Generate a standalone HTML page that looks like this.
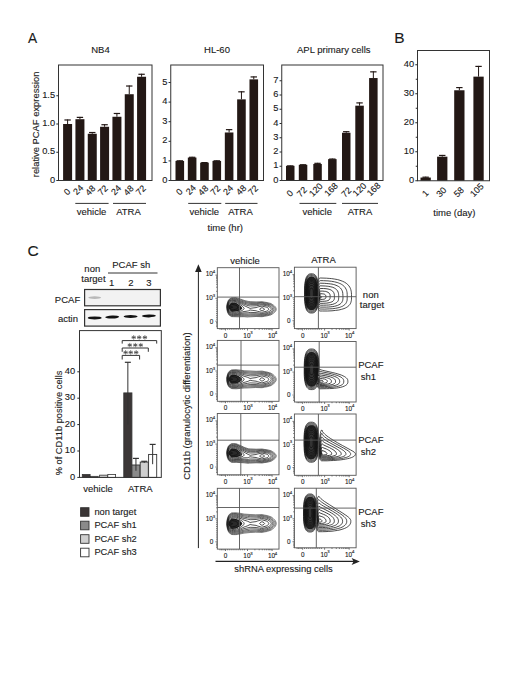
<!DOCTYPE html>
<html><head><meta charset="utf-8"><style>
html,body{margin:0;padding:0;background:#fff;}
body{width:520px;height:673px;overflow:hidden;}
svg{display:block;font-family:"Liberation Sans", sans-serif;}
text{stroke:#1a1a1a;stroke-width:0.12px;}
</style></head><body>
<svg width="520" height="673" viewBox="0 0 520 673">
<rect width="520" height="673" fill="#fff"/>
<text transform="translate(28.0 42.9) scale(0.92 1)" x="0" y="0" font-size="14.9" fill="#1a1a1a">A</text>
<text x="394.2" y="42.7" font-size="15.5" text-anchor="start" fill="#1a1a1a">B</text>
<text x="27.4" y="256.2" font-size="15.5" text-anchor="start" fill="#1a1a1a">C</text>
<line x1="67.6" y1="119.47999999999999" x2="67.6" y2="124.0" stroke="#231815" stroke-width="1.0"/>
<line x1="64.39999999999999" y1="119.97999999999999" x2="70.8" y2="119.97999999999999" stroke="#231815" stroke-width="1.2"/>
<rect x="63.1" y="124.0" width="9.0" height="56.5" fill="#231815"/>
<line x1="79.93" y1="116.881" x2="79.93" y2="119.1975" stroke="#231815" stroke-width="1.0"/>
<line x1="76.73" y1="117.381" x2="83.13000000000001" y2="117.381" stroke="#231815" stroke-width="1.2"/>
<rect x="75.43" y="119.1975" width="9.0" height="61.302499999999995" fill="#231815"/>
<line x1="92.26" y1="132.023" x2="92.26" y2="133.7745" stroke="#231815" stroke-width="1.0"/>
<line x1="89.06" y1="132.523" x2="95.46000000000001" y2="132.523" stroke="#231815" stroke-width="1.2"/>
<rect x="87.76" y="133.7745" width="9.0" height="46.72550000000001" fill="#231815"/>
<line x1="104.59" y1="124.226" x2="104.59" y2="126.7685" stroke="#231815" stroke-width="1.0"/>
<line x1="101.39" y1="124.726" x2="107.79" y2="124.726" stroke="#231815" stroke-width="1.2"/>
<rect x="100.09" y="126.7685" width="9.0" height="53.7315" fill="#231815"/>
<line x1="116.92" y1="112.9825" x2="116.92" y2="116.768" stroke="#231815" stroke-width="1.0"/>
<line x1="113.72" y1="113.4825" x2="120.12" y2="113.4825" stroke="#231815" stroke-width="1.2"/>
<rect x="112.42" y="116.768" width="9.0" height="63.732" fill="#231815"/>
<line x1="129.25" y1="85.5235" x2="129.25" y2="94.2245" stroke="#231815" stroke-width="1.0"/>
<line x1="126.05" y1="86.0235" x2="132.45" y2="86.0235" stroke="#231815" stroke-width="1.2"/>
<rect x="124.75" y="94.2245" width="9.0" height="86.2755" fill="#231815"/>
<line x1="141.58" y1="73.7715" x2="141.58" y2="76.76599999999999" stroke="#231815" stroke-width="1.0"/>
<line x1="138.38000000000002" y1="74.2715" x2="144.78" y2="74.2715" stroke="#231815" stroke-width="1.2"/>
<rect x="137.08" y="76.76599999999999" width="9.0" height="103.73400000000001" fill="#231815"/>
<rect x="58.5" y="65" width="93.5" height="115.5" fill="none" stroke="#333" stroke-width="1"/>
<line x1="56.3" y1="180.5" x2="58.5" y2="180.5" stroke="#2a2a2a" stroke-width="1"/>
<text x="55.099999999999994" y="182.6" font-size="9.3" text-anchor="end" fill="#1a1a1a">0</text>
<line x1="56.3" y1="152.25" x2="58.5" y2="152.25" stroke="#2a2a2a" stroke-width="1"/>
<text x="55.099999999999994" y="154.35" font-size="9.3" text-anchor="end" fill="#1a1a1a">0.5</text>
<line x1="56.3" y1="124.0" x2="58.5" y2="124.0" stroke="#2a2a2a" stroke-width="1"/>
<text x="55.099999999999994" y="126.1" font-size="9.3" text-anchor="end" fill="#1a1a1a">1.0</text>
<line x1="56.3" y1="95.75" x2="58.5" y2="95.75" stroke="#2a2a2a" stroke-width="1"/>
<text x="55.099999999999994" y="97.85" font-size="9.3" text-anchor="end" fill="#1a1a1a">1.5</text>
<text x="100.5" y="53.4" font-size="9.5" text-anchor="middle" fill="#1a1a1a">NB4</text>
<line x1="179.8" y1="160.312" x2="179.8" y2="160.9" stroke="#231815" stroke-width="1.0"/>
<line x1="176.60000000000002" y1="160.812" x2="183.0" y2="160.812" stroke="#231815" stroke-width="1.2"/>
<rect x="175.5" y="160.9" width="8.6" height="19.599999999999994" fill="#231815"/>
<line x1="192.13000000000002" y1="156.784" x2="192.13000000000002" y2="157.568" stroke="#231815" stroke-width="1.0"/>
<line x1="188.93000000000004" y1="157.284" x2="195.33" y2="157.284" stroke="#231815" stroke-width="1.2"/>
<rect x="187.83" y="157.568" width="8.6" height="22.931999999999988" fill="#231815"/>
<line x1="204.46" y1="162.076" x2="204.46" y2="162.664" stroke="#231815" stroke-width="1.0"/>
<line x1="201.26000000000002" y1="162.576" x2="207.66" y2="162.576" stroke="#231815" stroke-width="1.2"/>
<rect x="200.16" y="162.664" width="8.6" height="17.836000000000013" fill="#231815"/>
<line x1="216.79000000000002" y1="160.312" x2="216.79000000000002" y2="160.9" stroke="#231815" stroke-width="1.0"/>
<line x1="213.59000000000003" y1="160.812" x2="219.99" y2="160.812" stroke="#231815" stroke-width="1.2"/>
<rect x="212.49" y="160.9" width="8.6" height="19.599999999999994" fill="#231815"/>
<line x1="229.12" y1="129.148" x2="229.12" y2="132.48" stroke="#231815" stroke-width="1.0"/>
<line x1="225.92000000000002" y1="129.648" x2="232.32" y2="129.648" stroke="#231815" stroke-width="1.2"/>
<rect x="224.82" y="132.48" width="8.6" height="48.02000000000001" fill="#231815"/>
<line x1="241.45000000000002" y1="91.32" x2="241.45000000000002" y2="99.356" stroke="#231815" stroke-width="1.0"/>
<line x1="238.25000000000003" y1="91.82" x2="244.65" y2="91.82" stroke="#231815" stroke-width="1.2"/>
<rect x="237.15" y="99.356" width="8.6" height="81.144" fill="#231815"/>
<line x1="253.78000000000003" y1="76.424" x2="253.78000000000003" y2="79.36399999999999" stroke="#231815" stroke-width="1.0"/>
<line x1="250.58000000000004" y1="76.924" x2="256.98" y2="76.924" stroke="#231815" stroke-width="1.2"/>
<rect x="249.48000000000002" y="79.36399999999999" width="8.6" height="101.13600000000001" fill="#231815"/>
<rect x="170.75" y="65" width="92.75" height="115.5" fill="none" stroke="#333" stroke-width="1"/>
<line x1="168.55" y1="180.5" x2="170.75" y2="180.5" stroke="#2a2a2a" stroke-width="1"/>
<text x="167.35000000000002" y="182.6" font-size="9.3" text-anchor="end" fill="#1a1a1a">0</text>
<line x1="168.55" y1="160.9" x2="170.75" y2="160.9" stroke="#2a2a2a" stroke-width="1"/>
<text x="167.35000000000002" y="163.0" font-size="9.3" text-anchor="end" fill="#1a1a1a">1</text>
<line x1="168.55" y1="141.3" x2="170.75" y2="141.3" stroke="#2a2a2a" stroke-width="1"/>
<text x="167.35000000000002" y="143.4" font-size="9.3" text-anchor="end" fill="#1a1a1a">2</text>
<line x1="168.55" y1="121.69999999999999" x2="170.75" y2="121.69999999999999" stroke="#2a2a2a" stroke-width="1"/>
<text x="167.35000000000002" y="123.79999999999998" font-size="9.3" text-anchor="end" fill="#1a1a1a">3</text>
<line x1="168.55" y1="102.1" x2="170.75" y2="102.1" stroke="#2a2a2a" stroke-width="1"/>
<text x="167.35000000000002" y="104.19999999999999" font-size="9.3" text-anchor="end" fill="#1a1a1a">4</text>
<line x1="168.55" y1="82.5" x2="170.75" y2="82.5" stroke="#2a2a2a" stroke-width="1"/>
<text x="167.35000000000002" y="84.6" font-size="9.3" text-anchor="end" fill="#1a1a1a">5</text>
<text x="217" y="53.4" font-size="9.5" text-anchor="middle" fill="#1a1a1a">HL-60</text>
<line x1="290.25" y1="165.395" x2="290.25" y2="165.8225" stroke="#231815" stroke-width="1.0"/>
<line x1="287.05" y1="165.895" x2="293.45" y2="165.895" stroke="#231815" stroke-width="1.2"/>
<rect x="286" y="165.8225" width="8.5" height="14.677500000000009" fill="#231815"/>
<line x1="303.05" y1="164.255" x2="303.05" y2="164.825" stroke="#231815" stroke-width="1.0"/>
<line x1="299.85" y1="164.755" x2="306.25" y2="164.755" stroke="#231815" stroke-width="1.2"/>
<rect x="298.8" y="164.825" width="8.5" height="15.675000000000011" fill="#231815"/>
<line x1="317.55" y1="162.83" x2="317.55" y2="163.97" stroke="#231815" stroke-width="1.0"/>
<line x1="314.35" y1="163.33" x2="320.75" y2="163.33" stroke="#231815" stroke-width="1.2"/>
<rect x="313.3" y="163.97" width="8.5" height="16.53" fill="#231815"/>
<line x1="332.35" y1="158.555" x2="332.35" y2="159.125" stroke="#231815" stroke-width="1.0"/>
<line x1="329.15000000000003" y1="159.055" x2="335.55" y2="159.055" stroke="#231815" stroke-width="1.2"/>
<rect x="328.1" y="159.125" width="8.5" height="21.375" fill="#231815"/>
<line x1="346.25" y1="131.195" x2="346.25" y2="132.7625" stroke="#231815" stroke-width="1.0"/>
<line x1="343.05" y1="131.695" x2="349.45" y2="131.695" stroke="#231815" stroke-width="1.2"/>
<rect x="342" y="132.7625" width="8.5" height="47.73750000000001" fill="#231815"/>
<line x1="359.55" y1="102.41" x2="359.55" y2="105.6875" stroke="#231815" stroke-width="1.0"/>
<line x1="356.35" y1="102.91" x2="362.75" y2="102.91" stroke="#231815" stroke-width="1.2"/>
<rect x="355.3" y="105.6875" width="8.5" height="74.8125" fill="#231815"/>
<line x1="373.35" y1="71.345" x2="373.35" y2="78.04249999999999" stroke="#231815" stroke-width="1.0"/>
<line x1="370.15000000000003" y1="71.845" x2="376.55" y2="71.845" stroke="#231815" stroke-width="1.2"/>
<rect x="369.1" y="78.04249999999999" width="8.5" height="102.45750000000001" fill="#231815"/>
<rect x="281.75" y="65" width="101.25" height="115.5" fill="none" stroke="#333" stroke-width="1"/>
<line x1="279.55" y1="180.5" x2="281.75" y2="180.5" stroke="#2a2a2a" stroke-width="1"/>
<text x="278.35" y="182.6" font-size="9.3" text-anchor="end" fill="#1a1a1a">0</text>
<line x1="279.55" y1="166.25" x2="281.75" y2="166.25" stroke="#2a2a2a" stroke-width="1"/>
<text x="278.35" y="168.35" font-size="9.3" text-anchor="end" fill="#1a1a1a">1</text>
<line x1="279.55" y1="152.0" x2="281.75" y2="152.0" stroke="#2a2a2a" stroke-width="1"/>
<text x="278.35" y="154.1" font-size="9.3" text-anchor="end" fill="#1a1a1a">2</text>
<line x1="279.55" y1="137.75" x2="281.75" y2="137.75" stroke="#2a2a2a" stroke-width="1"/>
<text x="278.35" y="139.85" font-size="9.3" text-anchor="end" fill="#1a1a1a">3</text>
<line x1="279.55" y1="123.5" x2="281.75" y2="123.5" stroke="#2a2a2a" stroke-width="1"/>
<text x="278.35" y="125.6" font-size="9.3" text-anchor="end" fill="#1a1a1a">4</text>
<line x1="279.55" y1="109.25" x2="281.75" y2="109.25" stroke="#2a2a2a" stroke-width="1"/>
<text x="278.35" y="111.35" font-size="9.3" text-anchor="end" fill="#1a1a1a">5</text>
<line x1="279.55" y1="95.0" x2="281.75" y2="95.0" stroke="#2a2a2a" stroke-width="1"/>
<text x="278.35" y="97.1" font-size="9.3" text-anchor="end" fill="#1a1a1a">6</text>
<line x1="279.55" y1="80.75" x2="281.75" y2="80.75" stroke="#2a2a2a" stroke-width="1"/>
<text x="278.35" y="82.85" font-size="9.3" text-anchor="end" fill="#1a1a1a">7</text>
<text x="333.8" y="53.4" font-size="9.5" text-anchor="middle" fill="#1a1a1a">APL primary cells</text>
<line x1="425.65" y1="176.69" x2="425.65" y2="177.56" stroke="#231815" stroke-width="1.0"/>
<line x1="422.45" y1="177.19" x2="428.84999999999997" y2="177.19" stroke="#231815" stroke-width="1.2"/>
<rect x="420.5" y="177.56" width="10.3" height="3.1899999999999977" fill="#231815"/>
<line x1="442.25" y1="154.94" x2="442.25" y2="156.68" stroke="#231815" stroke-width="1.0"/>
<line x1="439.05" y1="155.44" x2="445.45" y2="155.44" stroke="#231815" stroke-width="1.2"/>
<rect x="437.1" y="156.68" width="10.3" height="24.069999999999993" fill="#231815"/>
<line x1="459.34999999999997" y1="87.08000000000001" x2="459.34999999999997" y2="90.27000000000001" stroke="#231815" stroke-width="1.0"/>
<line x1="456.15" y1="87.58000000000001" x2="462.54999999999995" y2="87.58000000000001" stroke="#231815" stroke-width="1.2"/>
<rect x="454.2" y="90.27000000000001" width="10.3" height="90.47999999999999" fill="#231815"/>
<line x1="478.54999999999995" y1="65.91" x2="478.54999999999995" y2="76.64" stroke="#231815" stroke-width="1.0"/>
<line x1="475.34999999999997" y1="66.41" x2="481.74999999999994" y2="66.41" stroke="#231815" stroke-width="1.2"/>
<rect x="473.4" y="76.64" width="10.3" height="104.11" fill="#231815"/>
<rect x="417.5" y="50.5" width="72.0" height="130.25" fill="none" stroke="#333" stroke-width="1"/>
<line x1="415.3" y1="180.75" x2="417.5" y2="180.75" stroke="#2a2a2a" stroke-width="1"/>
<text x="414.1" y="182.85" font-size="9.3" text-anchor="end" fill="#1a1a1a">0</text>
<line x1="415.3" y1="151.75" x2="417.5" y2="151.75" stroke="#2a2a2a" stroke-width="1"/>
<text x="414.1" y="153.85" font-size="9.3" text-anchor="end" fill="#1a1a1a">10</text>
<line x1="415.3" y1="122.75" x2="417.5" y2="122.75" stroke="#2a2a2a" stroke-width="1"/>
<text x="414.1" y="124.85" font-size="9.3" text-anchor="end" fill="#1a1a1a">20</text>
<line x1="415.3" y1="93.75" x2="417.5" y2="93.75" stroke="#2a2a2a" stroke-width="1"/>
<text x="414.1" y="95.85" font-size="9.3" text-anchor="end" fill="#1a1a1a">30</text>
<line x1="415.3" y1="64.75" x2="417.5" y2="64.75" stroke="#2a2a2a" stroke-width="1"/>
<text x="414.1" y="66.85" font-size="9.3" text-anchor="end" fill="#1a1a1a">40</text>
<line x1="415.74" y1="166.25" x2="417.5" y2="166.25" stroke="#2a2a2a" stroke-width="1"/>
<line x1="415.74" y1="137.25" x2="417.5" y2="137.25" stroke="#2a2a2a" stroke-width="1"/>
<line x1="415.74" y1="108.25" x2="417.5" y2="108.25" stroke="#2a2a2a" stroke-width="1"/>
<line x1="415.74" y1="79.25" x2="417.5" y2="79.25" stroke="#2a2a2a" stroke-width="1"/>
<text x="39.4" y="124.35" font-size="9.4" text-anchor="middle" fill="#1a1a1a" transform="rotate(-90 39.4 124.35)">relative PCAF expression</text>
<text x="69.32" y="194.02" font-size="9" text-anchor="middle" fill="#1a1a1a" transform="rotate(-45 69.32 194.02)">0</text>
<text x="80.42" y="192.08" font-size="9" text-anchor="middle" fill="#1a1a1a" transform="rotate(-45 80.42 192.08)">24</text>
<text x="92.6" y="192.6" font-size="9" text-anchor="middle" fill="#1a1a1a" transform="rotate(-45 92.6 192.6)">48</text>
<text x="105.12" y="192.5" font-size="9" text-anchor="middle" fill="#1a1a1a" transform="rotate(-45 105.12 192.5)">72</text>
<text x="118.22" y="192.28" font-size="9" text-anchor="middle" fill="#1a1a1a" transform="rotate(-45 118.22 192.28)">24</text>
<text x="130.8" y="192.6" font-size="9" text-anchor="middle" fill="#1a1a1a" transform="rotate(-45 130.8 192.6)">48</text>
<text x="143.12" y="192.5" font-size="9" text-anchor="middle" fill="#1a1a1a" transform="rotate(-45 143.12 192.5)">72</text>
<text x="181.52" y="194.02" font-size="9" text-anchor="middle" fill="#1a1a1a" transform="rotate(-45 181.52 194.02)">0</text>
<text x="193.12" y="192.08" font-size="9" text-anchor="middle" fill="#1a1a1a" transform="rotate(-45 193.12 192.08)">24</text>
<text x="205.4" y="192.6" font-size="9" text-anchor="middle" fill="#1a1a1a" transform="rotate(-45 205.4 192.6)">48</text>
<text x="217.62" y="192.4" font-size="9" text-anchor="middle" fill="#1a1a1a" transform="rotate(-45 217.62 192.4)">72</text>
<text x="230.22" y="192.28" font-size="9" text-anchor="middle" fill="#1a1a1a" transform="rotate(-45 230.22 192.28)">24</text>
<text x="243.4" y="192.3" font-size="9" text-anchor="middle" fill="#1a1a1a" transform="rotate(-45 243.4 192.3)">48</text>
<text x="255.32" y="192.4" font-size="9" text-anchor="middle" fill="#1a1a1a" transform="rotate(-45 255.32 192.4)">72</text>
<text x="292.12" y="195.42" font-size="9" text-anchor="middle" fill="#1a1a1a" transform="rotate(-45 292.12 195.42)">0</text>
<text x="304.02" y="194.1" font-size="9" text-anchor="middle" fill="#1a1a1a" transform="rotate(-45 304.02 194.1)">72</text>
<text x="318.0" y="191.98" font-size="9" text-anchor="middle" fill="#1a1a1a" transform="rotate(-45 318.0 191.98)">120</text>
<text x="333.3" y="191.8" font-size="9" text-anchor="middle" fill="#1a1a1a" transform="rotate(-45 333.3 191.8)">168</text>
<text x="348.52" y="194.4" font-size="9" text-anchor="middle" fill="#1a1a1a" transform="rotate(-45 348.52 194.4)">72</text>
<text x="361.7" y="191.78" font-size="9" text-anchor="middle" fill="#1a1a1a" transform="rotate(-45 361.7 191.78)">120</text>
<text x="375.9" y="191.5" font-size="9" text-anchor="middle" fill="#1a1a1a" transform="rotate(-45 375.9 191.5)">168</text>
<text x="427.42" y="195.45" font-size="9" text-anchor="middle" fill="#1a1a1a" transform="rotate(-45 427.42 195.45)">1</text>
<text x="443.55" y="194.2" font-size="9" text-anchor="middle" fill="#1a1a1a" transform="rotate(-45 443.55 194.2)">30</text>
<text x="460.98" y="194.32" font-size="9" text-anchor="middle" fill="#1a1a1a" transform="rotate(-45 460.98 194.32)">58</text>
<text x="479.0" y="192.22" font-size="9" text-anchor="middle" fill="#1a1a1a" transform="rotate(-45 479.0 192.22)">105</text>
<line x1="75.3" y1="203.4" x2="108.6" y2="203.4" stroke="#333" stroke-width="1.0"/>
<line x1="113" y1="203.4" x2="146" y2="203.4" stroke="#333" stroke-width="1.0"/>
<text x="91.5" y="215" font-size="9.5" text-anchor="middle" fill="#1a1a1a">vehicle</text>
<text x="128.5" y="215" font-size="9.5" text-anchor="middle" fill="#1a1a1a">ATRA</text>
<line x1="188.2" y1="203.4" x2="221.3" y2="203.4" stroke="#333" stroke-width="1.0"/>
<line x1="225.2" y1="203.4" x2="257.5" y2="203.4" stroke="#333" stroke-width="1.0"/>
<text x="204.3" y="215" font-size="9.5" text-anchor="middle" fill="#1a1a1a">vehicle</text>
<text x="240.5" y="215" font-size="9.5" text-anchor="middle" fill="#1a1a1a">ATRA</text>
<line x1="299.5" y1="203.4" x2="336.3" y2="203.4" stroke="#333" stroke-width="1.0"/>
<line x1="342" y1="203.4" x2="378" y2="203.4" stroke="#333" stroke-width="1.0"/>
<text x="317.2" y="215" font-size="9.5" text-anchor="middle" fill="#1a1a1a">vehicle</text>
<text x="360" y="215" font-size="9.5" text-anchor="middle" fill="#1a1a1a">ATRA</text>
<text x="225.3" y="231.3" font-size="9.5" text-anchor="middle" fill="#1a1a1a">time (hr)</text>
<text x="454.4" y="215.5" font-size="9.5" text-anchor="middle" fill="#1a1a1a">time (day)</text>
<text x="92.3" y="272" font-size="9.5" text-anchor="middle" fill="#1a1a1a">non</text>
<text x="93.4" y="282" font-size="9.5" text-anchor="middle" fill="#1a1a1a">target</text>
<text x="131.3" y="268" font-size="9.5" text-anchor="middle" fill="#1a1a1a">PCAF sh</text>
<line x1="108" y1="273" x2="157.5" y2="273" stroke="#333" stroke-width="1"/>
<text x="111.6" y="285.7" font-size="9.5" text-anchor="middle" fill="#1a1a1a">1</text>
<text x="131" y="285.7" font-size="9.5" text-anchor="middle" fill="#1a1a1a">2</text>
<text x="149" y="285.7" font-size="9.5" text-anchor="middle" fill="#1a1a1a">3</text>
<text x="80.2" y="302.9" font-size="9.5" text-anchor="end" fill="#1a1a1a">PCAF</text>
<text x="78" y="322.3" font-size="9.5" text-anchor="end" fill="#1a1a1a">actin</text>
<rect x="84.6" y="289.5" width="75.8" height="16.3" fill="#f2f2f2" stroke="#333" stroke-width="1.2"/>
<rect x="84.6" y="309.6" width="75.8" height="16.5" fill="#f4f4f4" stroke="#333" stroke-width="1.2"/>
<ellipse cx="94.7" cy="297.6" rx="6.5" ry="1.3" fill="#b8b8b8"/>
<ellipse cx="94.7" cy="317.9" rx="7" ry="1.5" fill="#111" transform="rotate(0 94.7 317.9)"/>
<ellipse cx="112.2" cy="317.1" rx="7" ry="1.5" fill="#111" transform="rotate(-2 112.2 317.1)"/>
<ellipse cx="130.6" cy="316.5" rx="7" ry="1.5" fill="#111" transform="rotate(0 130.6 316.5)"/>
<ellipse cx="148.9" cy="315.9" rx="7" ry="1.5" fill="#111" transform="rotate(-1 148.9 315.9)"/>
<rect x="82.3" y="474.496" width="7.8" height="2.9040000000000004" fill="#3b3636" stroke="#333" stroke-width="0.8"/>
<rect x="90.4" y="476.344" width="7.8" height="1.056" fill="#8a8a8a" stroke="#333" stroke-width="0.8"/>
<rect x="99.6" y="475.15599999999995" width="7.8" height="2.244" fill="#cfcfcf" stroke="#333" stroke-width="0.8"/>
<rect x="107.8" y="474.496" width="7.8" height="2.9040000000000004" fill="#ffffff" stroke="#333" stroke-width="0.8"/>
<rect x="123.8" y="392.91999999999996" width="8.1" height="84.48" fill="#3b3636" stroke="#333" stroke-width="0.9"/>
<line x1="127.85" y1="362.29599999999994" x2="127.85" y2="424.59999999999997" stroke="#333" stroke-width="1"/>
<line x1="124.85" y1="362.29599999999994" x2="130.85" y2="362.29599999999994" stroke="#333" stroke-width="1.2"/>
<rect x="131.9" y="464.99199999999996" width="8.1" height="12.408000000000001" fill="#8a8a8a" stroke="#333" stroke-width="0.9"/>
<line x1="135.95000000000002" y1="458.392" x2="135.95000000000002" y2="470.79999999999995" stroke="#333" stroke-width="1"/>
<line x1="132.95000000000002" y1="458.392" x2="138.95000000000002" y2="458.392" stroke="#333" stroke-width="1.2"/>
<rect x="140.2" y="462.08799999999997" width="8.1" height="15.312" fill="#cfcfcf" stroke="#333" stroke-width="0.9"/>
<line x1="144.25" y1="461.296" x2="144.25" y2="462.88" stroke="#333" stroke-width="1"/>
<line x1="141.25" y1="461.296" x2="147.25" y2="461.296" stroke="#333" stroke-width="1.2"/>
<rect x="148.6" y="454.43199999999996" width="8.1" height="22.968" fill="#ffffff" stroke="#333" stroke-width="0.9"/>
<line x1="152.65" y1="444.4" x2="152.65" y2="464.2" stroke="#333" stroke-width="1"/>
<line x1="149.65" y1="444.4" x2="155.65" y2="444.4" stroke="#333" stroke-width="1.2"/>
<rect x="79.5" y="330.6" width="81.80000000000001" height="146.79999999999995" fill="none" stroke="#333" stroke-width="1"/>
<line x1="77.3" y1="477.4" x2="79.5" y2="477.4" stroke="#2a2a2a" stroke-width="1"/>
<text x="75.1" y="479.5" font-size="9.3" text-anchor="end" fill="#1a1a1a">0</text>
<line x1="77.3" y1="451.0" x2="79.5" y2="451.0" stroke="#2a2a2a" stroke-width="1"/>
<text x="75.1" y="453.1" font-size="9.3" text-anchor="end" fill="#1a1a1a">10</text>
<line x1="77.3" y1="424.59999999999997" x2="79.5" y2="424.59999999999997" stroke="#2a2a2a" stroke-width="1"/>
<text x="75.1" y="426.7" font-size="9.3" text-anchor="end" fill="#1a1a1a">20</text>
<line x1="77.3" y1="398.2" x2="79.5" y2="398.2" stroke="#2a2a2a" stroke-width="1"/>
<text x="75.1" y="400.3" font-size="9.3" text-anchor="end" fill="#1a1a1a">30</text>
<line x1="77.3" y1="371.79999999999995" x2="79.5" y2="371.79999999999995" stroke="#2a2a2a" stroke-width="1"/>
<text x="75.1" y="373.9" font-size="9.3" text-anchor="end" fill="#1a1a1a">40</text>
<text x="61.9" y="423" font-size="9.3" text-anchor="middle" fill="#1a1a1a" transform="rotate(-90 61.9 423)">% of CD11b positive cells</text>
<text x="98" y="492" font-size="9.5" text-anchor="middle" fill="#1a1a1a">vehicle</text>
<text x="140.3" y="492" font-size="9.5" text-anchor="middle" fill="#1a1a1a">ATRA</text>
<path d="M122.2 343.6 V340.6 H156.7 V343.6" fill="none" stroke="#333" stroke-width="1"/>
<path d="M122.2 351.8 V348.0 H148.3 V351.8" fill="none" stroke="#333" stroke-width="1"/>
<path d="M122.2 359.5 V355.4 H139.6 V359.5" fill="none" stroke="#333" stroke-width="1"/>
<path d="M133.70 335.20L133.70 339.60M131.79 336.30L135.61 338.50M131.79 338.50L135.61 336.30M131.50 337.40L135.90 337.40M139.20 335.20L139.20 339.60M137.29 336.30L141.11 338.50M137.29 338.50L141.11 336.30M137.00 337.40L141.40 337.40M144.90 335.20L144.90 339.60M142.99 336.30L146.81 338.50M142.99 338.50L146.81 336.30M142.70 337.40L147.10 337.40M129.80 342.90L129.80 347.30M127.89 344.00L131.71 346.20M127.89 346.20L131.71 344.00M127.60 345.10L132.00 345.10M135.30 342.90L135.30 347.30M133.39 344.00L137.21 346.20M133.39 346.20L137.21 344.00M133.10 345.10L137.50 345.10M140.80 342.90L140.80 347.30M138.89 344.00L142.71 346.20M138.89 346.20L142.71 344.00M138.60 345.10L143.00 345.10M125.60 350.20L125.60 354.60M123.69 351.30L127.51 353.50M123.69 353.50L127.51 351.30M123.40 352.40L127.80 352.40M130.70 350.20L130.70 354.60M128.79 351.30L132.61 353.50M128.79 353.50L132.61 351.30M128.50 352.40L132.90 352.40M136.20 350.20L136.20 354.60M134.29 351.30L138.11 353.50M134.29 353.50L138.11 351.30M134.00 352.40L138.40 352.40" stroke="#4a4a4a" stroke-width="0.75" fill="none"/>
<rect x="80.6" y="507.7" width="8.4" height="8.6" fill="#3b3636" stroke="#333" stroke-width="0.9"/>
<text x="94.4" y="514.7" font-size="9.3" text-anchor="start" fill="#1a1a1a">non target</text>
<rect x="80.6" y="521.2" width="8.4" height="8.6" fill="#8a8a8a" stroke="#333" stroke-width="0.9"/>
<text x="94.4" y="528.2" font-size="9.3" text-anchor="start" fill="#1a1a1a">PCAF sh1</text>
<rect x="80.6" y="534.7" width="8.4" height="8.6" fill="#cfcfcf" stroke="#333" stroke-width="0.9"/>
<text x="94.4" y="541.7" font-size="9.3" text-anchor="start" fill="#1a1a1a">PCAF sh2</text>
<rect x="80.6" y="548.2" width="8.4" height="8.6" fill="#ffffff" stroke="#333" stroke-width="0.9"/>
<text x="94.4" y="555.2" font-size="9.3" text-anchor="start" fill="#1a1a1a">PCAF sh3</text>
<text x="245" y="263.5" font-size="9.5" text-anchor="middle" fill="#1a1a1a">vehicle</text>
<text x="323.5" y="263.2" font-size="9.5" text-anchor="middle" fill="#1a1a1a">ATRA</text>
<text x="370.8" y="298.2" font-size="9.5" text-anchor="middle" fill="#1a1a1a">non</text>
<text x="372.0" y="308.3" font-size="9.5" text-anchor="middle" fill="#1a1a1a">target</text>
<text x="370.8" y="368.3" font-size="9.5" text-anchor="middle" fill="#1a1a1a">PCAF</text>
<text x="368.4" y="379.6" font-size="9.5" text-anchor="middle" fill="#1a1a1a">sh1</text>
<text x="370.8" y="443.1" font-size="9.5" text-anchor="middle" fill="#1a1a1a">PCAF</text>
<text x="368.4" y="454.5" font-size="9.5" text-anchor="middle" fill="#1a1a1a">sh2</text>
<text x="370.8" y="515.4" font-size="9.5" text-anchor="middle" fill="#1a1a1a">PCAF</text>
<text x="368.4" y="526.8" font-size="9.5" text-anchor="middle" fill="#1a1a1a">sh3</text>
<line x1="198.4" y1="268" x2="198.4" y2="548.1" stroke="#222" stroke-width="1"/>
<path d="M198.4 264.3 L195.1 271.9 L201.7 271.9 Z" fill="#222"/>
<line x1="215.5" y1="561.4" x2="355" y2="561.4" stroke="#222" stroke-width="1.1"/>
<path d="M359.9 561.4 L351.6 557.9 L353.6 561.4 L351.6 564.9 Z" fill="#222"/>
<text x="283.5" y="572.3" font-size="9.4" text-anchor="middle" fill="#1a1a1a">shRNA expressing cells</text>
<text x="190.3" y="406.1" font-size="9.46" text-anchor="middle" fill="#1a1a1a" transform="rotate(-90 190.3 406.1)">CD11b (granulocytic differentiation)</text>
<path d="M231.7 311.7 231.3 311.5 230.7 310.9 230.0 310.1 229.4 309.3 228.9 308.5 228.8 307.3 228.8 306.5 228.9 305.9 229.2 305.3 229.8 304.5 230.5 303.7 231.3 302.9 231.7 302.7 233.7 302.8 235.7 303.0 236.1 303.1 238.5 304.5 240.3 305.7 241.2 306.5 241.5 306.9 242.1 307.7 242.2 308.1 242.2 308.5 242.0 308.9 241.6 309.3 241.0 309.7 240.3 310.1 239.7 310.4 238.1 310.9 236.1 311.3 233.7 311.6 231.7 311.7Z" fill="#2a2a2a" stroke="none"/>
<path d="M248.5 316.9 247.7 317.0 244.1 316.7 241.7 316.7 239.3 316.8 233.7 316.7 231.7 316.6 231.3 316.5 228.9 314.9 228.2 313.7 227.8 312.9 227.4 311.7 227.0 310.1 226.8 308.5 226.6 307.3 226.7 306.1 227.0 304.5 227.5 302.5 227.8 301.7 228.3 300.5 228.9 299.5 231.3 297.9 231.7 297.8 233.7 297.7 236.1 297.7 240.5 299.1 244.1 300.4 248.1 301.4 250.1 301.6 256.1 301.9 262.1 301.7 264.9 302.2 266.9 302.5 270.9 303.5 272.1 304.3 273.6 305.3 274.5 306.0 274.9 306.4 275.6 307.3 276.0 308.1 276.1 308.5 276.2 308.9 276.2 309.3 276.1 310.1 275.7 310.9 275.1 311.7 274.5 312.4 273.7 313.0 272.5 313.9 270.9 314.9 266.9 315.9 264.9 316.2 262.1 316.7 256.1 316.5 250.1 316.8 248.5 316.9Z" fill="none" stroke="#111" stroke-width="0.55" stroke-linejoin="round"/>
<path d="M248.1 316.1 244.1 315.9 241.7 316.0 239.3 316.0 233.7 316.1 231.7 316.0 231.3 315.9 228.9 314.3 228.6 313.7 228.2 312.9 227.9 312.1 227.5 310.9 227.1 308.9 227.0 307.3 227.0 306.5 227.1 305.3 227.5 303.3 227.8 302.5 228.3 301.3 228.9 300.1 231.3 298.5 231.7 298.4 233.7 298.3 235.7 298.3 236.1 298.4 239.3 299.5 241.7 300.3 244.1 301.2 248.1 302.3 250.1 302.5 256.1 302.7 262.1 302.4 264.9 302.9 266.9 303.2 270.9 304.4 271.3 304.6 272.5 305.5 273.7 306.5 274.4 307.3 274.7 307.7 275.1 308.5 275.1 308.9 275.2 309.3 275.0 310.1 274.8 310.5 274.2 311.3 273.0 312.5 271.7 313.5 270.9 314.0 267.3 315.1 266.9 315.2 264.9 315.5 262.1 316.0 260.1 315.9 256.1 315.7 250.1 315.9 248.1 316.1Z" fill="none" stroke="#111" stroke-width="0.59" stroke-linejoin="round"/>
<path d="M238.9 315.3 233.7 315.4 231.7 315.4 231.3 315.2 228.9 313.5 228.4 312.5 227.8 310.9 227.5 309.7 227.4 308.9 227.2 307.7 227.2 306.9 227.4 305.3 227.5 304.5 227.8 303.3 228.3 302.1 228.9 300.9 231.3 299.2 231.7 299.0 233.3 299.0 236.1 299.1 240.5 300.7 244.1 302.1 248.1 303.2 250.1 303.5 256.1 303.6 260.5 303.2 262.1 303.1 264.9 303.7 266.9 304.0 270.5 305.1 270.9 305.3 271.3 305.6 272.4 306.5 273.1 307.3 273.6 308.1 273.9 308.9 273.9 309.3 273.8 309.7 273.5 310.5 273.2 310.9 272.6 311.7 271.3 312.8 270.9 313.1 268.5 314.0 266.9 314.4 264.9 314.7 262.1 315.3 260.5 315.2 255.7 314.8 250.1 314.9 248.1 315.2 244.1 315.0 241.7 315.2 238.9 315.3Z" fill="none" stroke="#111" stroke-width="0.63" stroke-linejoin="round"/>
<path d="M238.9 314.5 233.7 314.7 231.7 314.7 231.3 314.5 229.7 313.4 228.9 312.8 228.8 312.5 228.3 311.3 227.9 310.1 227.6 308.5 227.5 307.7 227.5 306.9 227.5 306.1 227.7 304.9 227.9 304.1 228.3 302.9 228.9 301.6 231.3 299.9 231.7 299.7 233.3 299.7 236.1 299.8 240.5 301.5 244.1 303.1 248.1 304.3 249.7 304.6 250.1 304.6 256.1 304.6 259.3 304.2 262.1 304.0 264.9 304.5 266.9 304.8 268.9 305.6 270.9 306.4 271.4 306.9 272.0 307.7 272.3 308.1 272.6 308.9 272.6 309.3 272.5 309.7 272.2 310.5 271.6 311.3 270.9 312.0 268.9 312.8 266.9 313.6 264.9 313.9 262.1 314.4 260.1 314.3 256.1 313.8 250.1 313.8 248.1 314.1 244.1 314.0 241.7 314.3 238.9 314.5Z" fill="none" stroke="#111" stroke-width="0.67" stroke-linejoin="round"/>
<path d="M237.7 313.7 233.7 313.9 231.7 314.0 231.3 313.8 230.5 313.2 228.9 311.9 228.8 311.7 228.2 310.1 228.0 308.9 227.8 307.7 227.8 306.9 227.9 306.1 228.2 304.5 228.6 303.3 228.9 302.5 231.3 300.6 231.7 300.4 232.9 300.4 236.1 300.6 240.1 302.3 242.1 303.2 244.1 304.2 248.1 305.6 250.1 306.0 256.1 305.8 259.7 305.2 261.7 304.9 262.1 304.9 266.9 305.9 267.7 306.2 268.9 306.8 269.8 307.3 270.4 307.7 270.9 308.1 271.1 308.5 271.2 308.9 271.2 309.3 271.2 309.7 270.9 310.3 270.1 310.9 268.7 311.7 266.9 312.5 262.1 313.5 261.7 313.5 259.3 313.1 256.1 312.6 250.1 312.4 248.1 312.8 244.1 312.9 240.9 313.4 237.7 313.7Z" fill="none" stroke="#111" stroke-width="0.71" stroke-linejoin="round"/>
<path d="M236.5 312.9 233.7 313.1 231.7 313.2 231.3 313.0 230.9 312.7 229.8 311.7 228.9 310.9 228.6 310.1 228.4 309.3 228.3 308.5 228.2 307.7 228.2 306.5 228.3 305.7 228.5 304.9 228.7 304.1 228.9 303.5 230.0 302.5 231.3 301.4 231.7 301.2 233.7 301.3 236.1 301.5 238.1 302.4 240.5 303.5 242.3 304.5 244.1 305.6 246.1 306.5 250.1 308.4 251.9 308.1 256.1 307.6 257.3 307.2 258.9 306.7 260.9 306.3 262.1 306.1 266.9 307.3 267.6 307.7 268.1 308.1 268.4 308.5 268.7 308.9 268.7 309.3 268.6 309.7 268.3 310.1 267.7 310.6 266.9 311.1 262.1 312.3 261.3 312.2 259.0 311.7 257.5 311.3 256.1 310.8 252.9 310.4 250.1 310.0 248.5 310.8 248.1 310.9 247.7 311.0 246.1 311.3 244.1 311.5 242.5 311.9 240.9 312.3 238.9 312.6 236.5 312.9Z" fill="none" stroke="#111" stroke-width="0.74" stroke-linejoin="round"/>
<path d="M234.5 312.1 231.7 312.3 231.3 312.1 230.4 311.3 229.7 310.5 229.0 309.7 228.8 309.3 228.6 308.5 228.5 307.3 228.6 306.1 228.9 304.8 229.5 304.1 230.6 302.9 231.3 302.3 231.7 302.1 233.7 302.2 235.7 302.4 236.1 302.5 237.3 303.0 239.9 304.5 241.2 305.3 242.2 306.1 243.1 306.9 243.4 307.3 244.0 308.1 244.1 308.5 244.0 308.9 243.7 309.3 243.3 309.7 242.5 310.2 241.3 310.8 239.7 311.3 238.1 311.6 236.1 312.0 234.5 312.1Z M262.5 310.5 262.1 310.7 261.7 310.6 260.6 310.1 260.0 309.7 259.7 309.3 259.8 308.9 260.3 308.5 261.0 308.1 261.7 307.8 262.1 307.7 263.1 308.1 263.9 308.5 264.4 308.9 264.5 309.3 264.2 309.7 263.5 310.1 262.5 310.5Z" fill="none" stroke="#111" stroke-width="0.78" stroke-linejoin="round"/>
<path d="M235.3 310.9 231.7 311.3 231.3 311.1 230.8 310.5 230.1 309.7 229.6 308.9 229.2 308.1 229.1 307.7 229.0 307.3 229.1 306.9 229.2 306.5 229.5 305.7 230.0 304.9 230.6 304.1 231.3 303.3 231.7 303.1 234.5 303.4 235.7 303.5 236.1 303.6 237.7 304.6 239.2 305.7 240.1 306.5 240.7 307.3 240.9 307.7 240.9 308.1 240.9 308.2 240.8 308.5 240.5 308.9 240.0 309.3 239.3 309.7 238.1 310.2 236.5 310.7 235.3 310.9Z" fill="none" stroke="#111" stroke-width="0.82" stroke-linejoin="round"/>
<path d="M233.7 309.7 231.7 310.0 231.2 309.7 230.7 308.9 230.4 308.1 230.2 307.3 230.2 306.9 230.5 306.1 230.6 305.7 231.1 304.9 231.3 304.6 231.7 304.4 234.5 304.8 235.7 305.1 236.1 305.2 236.7 305.7 237.4 306.5 237.7 306.9 237.8 307.3 237.8 307.7 237.6 308.1 237.3 308.5 236.7 308.9 236.1 309.2 235.8 309.3 233.7 309.7Z" fill="none" stroke="#111" stroke-width="0.86" stroke-linejoin="round"/>
<path d="M231.7 307.9 231.6 307.7 231.5 307.3 231.5 306.9 231.7 306.5 232.3 306.9 232.5 307.3 232.1 307.7 231.7 307.9Z" fill="none" stroke="#111" stroke-width="0.9" stroke-linejoin="round"/>
<rect x="217.3" y="267.7" width="61.7" height="60.9" fill="none" stroke="#555" stroke-width="0.9"/>
<path d="M217.3 297.1H279.0M239.5 267.7V328.6" stroke="#555" stroke-width="0.9" fill="none"/>
<text x="212.8" y="276.3" font-size="6.4" text-anchor="end" fill="#1a1a1a" stroke="#1a1a1a" stroke-width="0.25">10</text>
<text x="212.7" y="273.0" font-size="4.3" text-anchor="start" fill="#1a1a1a" stroke="#1a1a1a" stroke-width="0.25">4</text>
<text x="212.8" y="300.3" font-size="6.4" text-anchor="end" fill="#1a1a1a" stroke="#1a1a1a" stroke-width="0.25">10</text>
<text x="212.7" y="297.0" font-size="4.3" text-anchor="start" fill="#1a1a1a" stroke="#1a1a1a" stroke-width="0.25">3</text>
<text x="213.4" y="323.6" font-size="6.4" text-anchor="end" fill="#1a1a1a" stroke="#1a1a1a" stroke-width="0.25">0</text>
<text x="225.6" y="337.6" font-size="6.4" text-anchor="middle" fill="#1a1a1a" stroke="#1a1a1a" stroke-width="0.25">0</text>
<text x="246.9" y="337.6" font-size="6.4" text-anchor="middle" fill="#1a1a1a" stroke="#1a1a1a" stroke-width="0.25">10</text>
<text x="250.2" y="334.0" font-size="4.3" text-anchor="start" fill="#1a1a1a" stroke="#1a1a1a" stroke-width="0.25">3</text>
<text x="271.5" y="337.6" font-size="6.4" text-anchor="middle" fill="#1a1a1a" stroke="#1a1a1a" stroke-width="0.25">10</text>
<text x="274.8" y="334.0" font-size="4.3" text-anchor="start" fill="#1a1a1a" stroke="#1a1a1a" stroke-width="0.25">4</text>
<path d="M215.4 275.1H217.3 M215.4 298.3H217.3 M215.4 321.2H217.3 M216.10000000000002 291.3H217.3 M216.10000000000002 287.2H217.3 M216.10000000000002 284.3H217.3 M216.10000000000002 282.1H217.3 M216.10000000000002 280.3H217.3 M216.10000000000002 278.7H217.3 M216.10000000000002 277.4H217.3 M216.10000000000002 276.2H217.3 M216.10000000000002 300.2H217.3 M216.10000000000002 302.1H217.3 M216.10000000000002 304.0H217.3 M216.10000000000002 305.9H217.3 M216.10000000000002 307.8H217.3 M216.10000000000002 309.7H217.3 M216.10000000000002 311.6H217.3 M216.10000000000002 313.5H217.3 M216.10000000000002 315.4H217.3 M216.10000000000002 317.3H217.3 M216.10000000000002 319.2H217.3 M216.10000000000002 322.5H217.3 M216.10000000000002 323.8H217.3 M216.10000000000002 325.2H217.3 M216.10000000000002 326.7H217.3 M225.5 328.6V330.5 M247.5 328.6V330.5 M272.1 328.6V330.5 M254.9 328.6V329.8 M259.2 328.6V329.8 M262.3 328.6V329.8 M264.7 328.6V329.8 M266.6 328.6V329.8 M268.3 328.6V329.8 M269.7 328.6V329.8 M271.0 328.6V329.8 M227.4 328.6V329.8 M229.3 328.6V329.8 M231.2 328.6V329.8 M233.1 328.6V329.8 M235.0 328.6V329.8 M236.9 328.6V329.8 M238.8 328.6V329.8 M240.7 328.6V329.8 M242.6 328.6V329.8 M244.5 328.6V329.8 M224.2 328.6V329.8 M222.9 328.6V329.8 M221.5 328.6V329.8 M220.0 328.6V329.8" stroke="#555" stroke-width="0.8" fill="none"/>
<path d="M233.3 383.6 231.7 383.7 231.3 383.5 230.6 382.8 229.9 382.0 229.3 381.2 228.9 380.5 228.8 379.2 228.9 378.0 229.4 377.2 229.9 376.4 231.3 375.0 231.7 374.8 235.7 375.1 236.1 375.1 236.5 375.3 238.3 376.0 239.2 376.4 240.1 376.9 241.0 377.6 241.5 378.0 241.8 378.4 242.1 378.8 242.2 379.2 242.2 379.6 242.0 380.0 241.7 380.4 241.3 380.8 240.8 381.2 239.5 382.0 238.1 382.7 236.1 383.4 233.3 383.6Z" fill="#2a2a2a" stroke="none"/>
<path d="M240.5 388.4 236.1 388.8 231.7 388.6 231.3 388.4 228.9 386.9 228.4 386.0 227.8 384.8 227.5 384.0 227.1 382.4 226.7 380.4 226.7 379.6 226.7 378.8 226.7 378.0 227.0 376.4 227.4 374.8 227.8 373.6 228.4 372.4 228.9 371.6 231.3 370.1 231.7 369.9 236.1 369.7 240.5 370.2 244.1 370.7 256.1 371.3 262.1 371.1 264.9 371.7 266.9 372.0 270.9 373.2 271.3 373.4 272.5 374.2 274.1 375.5 274.9 376.3 275.5 377.2 275.7 377.6 275.9 378.0 276.2 378.8 276.2 379.2 276.2 379.6 276.2 380.0 275.9 380.8 275.5 381.6 275.0 382.4 274.2 383.2 272.5 384.6 271.3 385.4 270.9 385.6 267.3 386.7 266.9 386.8 264.9 387.1 262.1 387.7 255.7 387.5 248.1 387.9 244.1 388.0 240.5 388.4Z" fill="none" stroke="#111" stroke-width="0.55" stroke-linejoin="round"/>
<path d="M237.3 388.0 236.1 388.1 235.7 388.1 231.7 388.0 231.3 387.8 228.9 386.2 228.3 385.2 227.8 384.0 227.5 383.2 227.1 381.2 227.0 380.4 227.0 379.2 227.0 378.0 227.1 377.2 227.6 375.2 227.9 374.4 228.4 373.2 228.9 372.3 231.3 370.7 231.7 370.5 236.1 370.4 240.5 370.9 244.1 371.6 250.1 372.0 256.1 372.2 260.9 371.9 262.1 371.9 264.9 372.4 266.9 372.7 270.9 374.0 271.3 374.3 272.9 375.6 274.0 376.8 274.5 377.5 274.8 378.0 275.1 378.8 275.2 379.2 275.2 379.6 275.1 380.0 274.9 380.6 274.6 381.2 274.3 381.6 273.7 382.4 272.5 383.5 271.4 384.4 270.9 384.8 266.9 386.1 264.9 386.4 262.1 386.9 260.9 386.9 256.1 386.6 250.1 386.8 247.7 387.0 244.1 387.1 240.1 387.7 237.3 388.0Z" fill="none" stroke="#111" stroke-width="0.59" stroke-linejoin="round"/>
<path d="M238.1 387.2 236.1 387.5 231.7 387.3 231.3 387.2 228.9 385.5 228.3 384.4 227.9 383.2 227.5 382.0 227.4 381.2 227.3 380.0 227.2 378.8 227.4 377.2 227.6 376.4 227.9 375.2 228.2 374.4 228.6 373.6 228.9 373.0 231.3 371.3 231.7 371.2 236.1 371.1 240.5 371.8 244.1 372.5 250.1 373.1 256.1 373.2 259.7 372.9 262.1 372.7 264.9 373.3 266.9 373.6 268.5 374.1 270.9 375.1 271.7 375.7 272.7 376.8 273.5 378.0 273.8 378.8 273.9 379.2 273.9 379.6 273.8 380.0 273.5 380.8 272.7 382.0 271.6 383.2 270.9 383.7 268.5 384.7 266.9 385.2 264.9 385.5 262.1 386.1 259.7 385.9 256.1 385.6 250.1 385.7 247.7 385.9 244.1 386.2 241.3 386.7 238.1 387.2Z" fill="none" stroke="#111" stroke-width="0.63" stroke-linejoin="round"/>
<path d="M238.1 386.4 236.1 386.7 231.7 386.7 231.3 386.5 229.3 385.1 228.9 384.8 228.7 384.4 228.4 383.6 228.0 382.4 227.8 381.6 227.6 380.4 227.5 379.6 227.5 378.8 227.6 378.0 227.8 376.8 228.3 375.2 228.6 374.4 228.9 373.7 231.3 372.0 231.7 371.8 236.1 371.8 240.1 372.5 242.1 373.0 244.1 373.6 250.1 374.3 256.1 374.3 260.1 373.8 262.1 373.6 264.9 374.2 266.9 374.6 268.9 375.4 270.5 376.1 270.9 376.3 271.3 376.7 271.7 377.2 272.2 378.0 272.5 378.8 272.6 379.2 272.6 379.6 272.4 380.4 271.9 381.2 271.7 381.6 271.0 382.4 270.5 382.7 269.3 383.2 266.9 384.2 264.9 384.6 262.1 385.2 260.1 385.0 256.1 384.5 250.1 384.5 246.9 384.9 244.1 385.1 241.3 385.8 238.1 386.4Z" fill="none" stroke="#111" stroke-width="0.67" stroke-linejoin="round"/>
<path d="M237.7 385.6 236.1 385.9 231.7 385.9 231.3 385.8 228.9 383.9 228.6 383.2 228.3 382.4 227.9 380.4 227.8 379.2 227.8 378.4 228.0 377.6 228.3 376.0 228.6 375.2 228.9 374.6 231.3 372.7 231.7 372.6 236.1 372.6 238.1 373.0 240.1 373.5 242.1 374.1 244.1 374.8 246.9 375.3 250.1 375.9 256.1 375.7 259.7 375.0 261.7 374.7 262.1 374.7 266.9 375.7 267.5 376.0 269.3 377.0 270.2 377.6 270.7 378.0 271.0 378.4 271.2 379.2 271.2 379.6 271.1 380.0 270.9 380.6 270.2 381.2 269.6 381.6 268.3 382.4 266.9 383.1 262.1 384.1 261.7 384.1 259.7 383.8 256.1 383.1 250.1 382.9 247.3 383.4 244.1 383.9 240.9 384.9 237.7 385.6Z" fill="none" stroke="#111" stroke-width="0.71" stroke-linejoin="round"/>
<path d="M236.9 384.9 236.1 385.0 235.7 385.1 231.7 385.1 231.3 385.0 231.1 384.8 229.7 383.6 228.9 382.9 228.6 382.0 228.4 381.2 228.2 380.0 228.2 378.8 228.2 378.0 228.4 377.2 228.6 376.4 228.9 375.6 230.1 374.5 231.3 373.5 231.7 373.3 235.7 373.4 236.1 373.5 237.7 373.9 239.7 374.5 241.3 375.0 242.7 375.6 244.1 376.3 246.0 376.8 247.3 377.2 248.9 377.9 250.1 378.5 252.9 378.0 256.1 377.6 257.2 377.2 258.9 376.7 260.9 376.2 261.7 376.0 262.1 375.9 266.9 377.3 267.4 377.6 268.3 378.4 268.5 378.8 268.7 379.2 268.7 379.6 268.5 380.0 268.3 380.4 267.4 381.2 266.9 381.5 262.1 382.9 261.7 382.8 260.9 382.6 258.9 382.1 257.2 381.6 256.1 381.2 252.9 380.8 250.1 380.3 248.5 381.1 247.2 381.6 245.8 382.0 244.1 382.4 242.4 383.2 240.5 383.9 238.5 384.5 236.9 384.9Z" fill="none" stroke="#111" stroke-width="0.74" stroke-linejoin="round"/>
<path d="M236.1 384.0 231.7 384.3 231.3 384.1 230.3 383.2 229.6 382.4 228.9 381.6 228.6 380.4 228.5 379.2 228.6 378.0 228.9 376.9 230.0 375.6 231.3 374.4 231.7 374.2 235.7 374.4 236.1 374.5 237.7 375.0 238.9 375.4 240.1 375.9 241.7 376.8 242.9 377.6 243.3 378.0 243.9 378.8 244.0 379.2 244.0 379.6 243.8 380.0 243.2 380.8 242.1 381.6 240.9 382.3 239.7 382.8 238.1 383.4 236.1 384.0Z M262.5 380.9 262.1 381.0 261.7 381.0 260.6 380.4 260.1 380.0 259.8 379.6 259.8 379.2 260.1 378.8 260.6 378.4 261.7 377.8 262.1 377.8 263.5 378.4 264.1 378.8 264.5 379.2 264.5 379.6 264.1 380.0 263.5 380.4 262.5 380.9Z" fill="none" stroke="#111" stroke-width="0.78" stroke-linejoin="round"/>
<path d="M232.5 383.2 231.7 383.3 231.3 383.1 231.0 382.8 230.3 382.0 229.8 381.2 229.3 380.4 229.1 379.6 229.0 379.2 229.1 378.8 229.2 378.4 229.6 377.6 230.4 376.4 231.3 375.4 231.7 375.2 234.9 375.5 236.1 375.6 237.8 376.4 239.2 377.2 240.2 378.0 240.5 378.4 240.8 378.8 240.9 379.2 240.9 379.6 240.7 380.0 240.4 380.4 240.0 380.8 239.5 381.2 238.5 381.8 237.3 382.4 236.1 382.9 232.5 383.2Z" fill="none" stroke="#111" stroke-width="0.82" stroke-linejoin="round"/>
<path d="M231.7 382.0 231.3 381.8 230.7 380.8 230.3 380.0 230.2 379.2 230.4 378.4 230.7 377.6 231.3 376.7 231.7 376.5 234.5 376.9 235.7 377.1 236.1 377.2 237.1 378.0 237.5 378.4 237.7 378.8 237.8 379.2 237.8 379.6 237.6 380.0 237.2 380.4 236.8 380.8 236.1 381.3 235.7 381.4 234.5 381.6 231.7 382.0Z" fill="none" stroke="#111" stroke-width="0.86" stroke-linejoin="round"/>
<path d="M232.1 379.7 231.7 379.9 231.5 379.6 231.5 379.2 231.6 378.8 231.7 378.6 232.1 378.8 232.5 379.2 232.3 379.6 232.1 379.7Z" fill="none" stroke="#111" stroke-width="0.9" stroke-linejoin="round"/>
<rect x="217.3" y="340.4" width="61.7" height="60.9" fill="none" stroke="#555" stroke-width="0.9"/>
<path d="M217.3 365.1H279.0M241.0 340.4V401.3" stroke="#555" stroke-width="0.9" fill="none"/>
<text x="212.8" y="349.0" font-size="6.4" text-anchor="end" fill="#1a1a1a" stroke="#1a1a1a" stroke-width="0.25">10</text>
<text x="212.7" y="345.7" font-size="4.3" text-anchor="start" fill="#1a1a1a" stroke="#1a1a1a" stroke-width="0.25">4</text>
<text x="212.8" y="373.0" font-size="6.4" text-anchor="end" fill="#1a1a1a" stroke="#1a1a1a" stroke-width="0.25">10</text>
<text x="212.7" y="369.7" font-size="4.3" text-anchor="start" fill="#1a1a1a" stroke="#1a1a1a" stroke-width="0.25">3</text>
<text x="213.4" y="396.3" font-size="6.4" text-anchor="end" fill="#1a1a1a" stroke="#1a1a1a" stroke-width="0.25">0</text>
<text x="225.6" y="410.3" font-size="6.4" text-anchor="middle" fill="#1a1a1a" stroke="#1a1a1a" stroke-width="0.25">0</text>
<text x="246.9" y="410.3" font-size="6.4" text-anchor="middle" fill="#1a1a1a" stroke="#1a1a1a" stroke-width="0.25">10</text>
<text x="250.2" y="406.7" font-size="4.3" text-anchor="start" fill="#1a1a1a" stroke="#1a1a1a" stroke-width="0.25">3</text>
<text x="271.5" y="410.3" font-size="6.4" text-anchor="middle" fill="#1a1a1a" stroke="#1a1a1a" stroke-width="0.25">10</text>
<text x="274.8" y="406.7" font-size="4.3" text-anchor="start" fill="#1a1a1a" stroke="#1a1a1a" stroke-width="0.25">4</text>
<path d="M215.4 347.8H217.3 M215.4 371.0H217.3 M215.4 393.9H217.3 M216.10000000000002 364.0H217.3 M216.10000000000002 359.9H217.3 M216.10000000000002 357.0H217.3 M216.10000000000002 354.8H217.3 M216.10000000000002 353.0H217.3 M216.10000000000002 351.4H217.3 M216.10000000000002 350.1H217.3 M216.10000000000002 348.9H217.3 M216.10000000000002 372.9H217.3 M216.10000000000002 374.8H217.3 M216.10000000000002 376.7H217.3 M216.10000000000002 378.6H217.3 M216.10000000000002 380.5H217.3 M216.10000000000002 382.4H217.3 M216.10000000000002 384.3H217.3 M216.10000000000002 386.2H217.3 M216.10000000000002 388.1H217.3 M216.10000000000002 390.0H217.3 M216.10000000000002 391.9H217.3 M216.10000000000002 395.2H217.3 M216.10000000000002 396.5H217.3 M216.10000000000002 397.9H217.3 M216.10000000000002 399.4H217.3 M225.5 401.3V403.2 M247.5 401.3V403.2 M272.1 401.3V403.2 M254.9 401.3V402.5 M259.2 401.3V402.5 M262.3 401.3V402.5 M264.7 401.3V402.5 M266.6 401.3V402.5 M268.3 401.3V402.5 M269.7 401.3V402.5 M271.0 401.3V402.5 M227.4 401.3V402.5 M229.3 401.3V402.5 M231.2 401.3V402.5 M233.1 401.3V402.5 M235.0 401.3V402.5 M236.9 401.3V402.5 M238.8 401.3V402.5 M240.7 401.3V402.5 M242.6 401.3V402.5 M244.5 401.3V402.5 M224.2 401.3V402.5 M222.9 401.3V402.5 M221.5 401.3V402.5 M220.0 401.3V402.5" stroke="#555" stroke-width="0.8" fill="none"/>
<path d="M235.7 457.1 233.7 457.3 231.7 457.5 231.3 457.3 230.3 456.3 229.7 455.5 229.1 454.7 228.9 454.2 228.8 453.5 228.8 452.7 228.9 451.8 229.3 451.1 229.8 450.3 230.5 449.5 231.3 448.7 231.7 448.5 233.7 448.7 235.7 448.9 236.1 449.0 238.7 450.7 240.2 451.9 241.4 453.1 242.0 453.9 242.2 454.3 242.2 454.7 242.0 455.1 241.6 455.5 241.0 455.9 240.0 456.3 238.9 456.6 237.3 456.9 235.7 457.1Z" fill="#2a2a2a" stroke="none"/>
<path d="M249.7 463.1 248.1 463.3 244.1 462.8 240.5 462.6 236.1 462.3 233.7 462.4 231.7 462.3 231.3 462.2 228.9 460.6 228.2 459.5 227.9 458.7 227.4 457.5 227.0 455.9 226.8 454.3 226.6 453.1 226.7 451.9 227.0 450.3 227.5 448.3 227.8 447.5 228.3 446.3 228.9 445.4 231.3 443.8 231.7 443.7 233.7 443.6 235.7 443.7 236.1 443.7 238.9 444.9 241.7 446.1 244.1 447.3 248.1 448.7 250.1 448.9 256.1 449.2 262.1 449.0 264.9 449.5 266.9 449.7 270.9 450.7 271.3 450.9 272.5 451.6 273.7 452.4 274.9 453.4 275.6 454.3 276.0 455.1 276.2 455.5 276.2 455.9 276.2 456.3 275.9 457.1 275.5 457.9 274.9 458.6 274.3 459.1 273.2 459.9 271.7 460.9 270.9 461.3 266.9 462.3 264.9 462.5 262.1 463.0 256.1 462.8 249.7 463.1Z" fill="none" stroke="#111" stroke-width="0.55" stroke-linejoin="round"/>
<path d="M262.1 462.4 256.1 462.1 250.1 462.3 248.1 462.5 244.1 462.0 241.3 462.0 236.1 461.7 233.3 461.8 231.7 461.7 231.3 461.6 228.9 460.0 228.4 459.1 227.9 457.9 227.6 457.1 227.4 456.3 227.1 455.1 227.0 453.9 227.0 453.1 227.0 451.9 227.2 450.7 227.5 449.1 227.8 448.3 228.3 447.1 228.9 446.0 231.3 444.4 231.7 444.3 233.3 444.2 236.1 444.4 240.9 446.5 244.1 448.0 248.1 449.5 250.1 449.7 256.1 449.9 260.1 449.7 262.1 449.6 264.9 450.1 267.3 450.5 270.5 451.4 270.9 451.5 271.3 451.7 272.5 452.5 273.3 453.1 274.1 453.9 274.7 454.7 275.0 455.1 275.1 455.5 275.2 455.9 275.1 456.3 274.9 457.1 274.3 457.9 273.5 458.7 272.5 459.5 271.3 460.3 270.9 460.5 266.9 461.6 264.9 461.9 262.1 462.4Z" fill="none" stroke="#111" stroke-width="0.59" stroke-linejoin="round"/>
<path d="M262.9 461.5 262.1 461.7 261.7 461.7 255.7 461.2 250.1 461.3 248.1 461.6 244.1 461.2 240.9 461.2 236.1 461.0 233.3 461.1 231.7 461.1 231.3 460.9 228.9 459.3 228.4 458.3 227.8 456.7 227.4 455.1 227.2 453.1 227.3 452.3 227.4 450.7 227.8 449.1 228.3 447.9 228.9 446.7 231.3 445.1 231.7 444.9 233.3 444.9 235.7 445.0 236.1 445.0 238.5 446.1 241.7 447.6 244.1 448.9 248.1 450.4 250.1 450.7 255.7 450.8 262.1 450.3 264.9 450.8 266.9 451.1 268.9 451.7 270.9 452.3 271.4 452.7 272.4 453.5 273.1 454.3 273.4 454.7 273.8 455.5 273.9 455.9 273.9 456.3 273.8 456.7 273.6 457.1 273.0 457.9 272.2 458.7 271.2 459.5 270.9 459.7 269.7 460.1 266.9 460.9 264.9 461.2 262.9 461.5Z" fill="none" stroke="#111" stroke-width="0.63" stroke-linejoin="round"/>
<path d="M262.9 460.7 262.1 460.9 261.7 460.9 255.7 460.3 250.1 460.3 248.1 460.6 244.1 460.2 240.9 460.4 236.1 460.3 233.7 460.4 231.7 460.4 231.3 460.3 228.9 458.5 228.4 457.5 228.0 456.3 227.8 455.5 227.6 454.3 227.5 453.5 227.5 452.7 227.5 451.9 227.8 450.7 228.2 449.1 228.7 447.9 228.9 447.5 231.3 445.7 231.7 445.6 233.3 445.6 235.7 445.7 236.1 445.8 239.3 447.3 241.7 448.5 244.1 449.8 248.1 451.4 250.1 451.7 255.7 451.7 260.5 451.2 262.1 451.1 264.9 451.6 266.9 451.9 268.5 452.5 270.9 453.4 271.5 453.9 272.1 454.7 272.3 455.1 272.5 455.5 272.6 455.9 272.6 456.3 272.4 456.7 272.0 457.5 271.3 458.3 270.9 458.6 268.9 459.4 266.9 460.1 264.9 460.4 262.9 460.7Z" fill="none" stroke="#111" stroke-width="0.67" stroke-linejoin="round"/>
<path d="M262.5 459.9 262.1 460.0 261.7 460.0 258.9 459.6 256.1 459.1 250.1 459.0 248.1 459.4 244.1 459.2 242.1 459.4 240.5 459.5 236.1 459.5 233.7 459.7 231.7 459.7 231.3 459.5 228.9 457.6 228.4 456.3 227.9 454.3 227.8 453.1 227.8 452.3 227.9 451.5 228.3 449.9 228.6 449.1 228.9 448.4 231.3 446.5 231.7 446.3 232.5 446.3 233.7 446.3 235.7 446.5 236.1 446.5 239.3 448.2 242.1 449.7 244.1 450.9 248.1 452.6 250.1 453.0 255.7 452.9 256.1 452.9 260.1 452.2 262.1 452.0 266.9 452.9 267.3 453.0 268.5 453.6 269.7 454.2 270.5 454.7 271.0 455.1 271.1 455.5 271.2 455.9 271.2 456.3 271.1 456.7 270.8 457.1 270.2 457.5 269.6 457.9 268.1 458.6 266.9 459.1 262.5 459.9Z" fill="none" stroke="#111" stroke-width="0.71" stroke-linejoin="round"/>
<path d="M262.9 458.7 262.1 458.9 261.7 458.9 258.8 458.3 257.3 457.9 256.1 457.5 252.4 457.1 250.1 456.8 248.4 457.5 248.1 457.6 247.7 457.7 246.1 457.8 244.1 457.8 241.7 458.3 239.3 458.5 236.1 458.7 233.7 458.9 231.7 458.9 231.3 458.7 230.9 458.4 229.8 457.5 228.9 456.6 228.6 455.9 228.4 455.1 228.2 453.9 228.2 452.7 228.2 451.9 228.4 451.1 228.7 449.9 228.9 449.4 230.0 448.3 231.3 447.3 231.7 447.1 233.7 447.2 235.7 447.3 236.1 447.4 239.7 449.4 241.9 450.7 244.1 452.3 245.8 453.1 248.1 454.4 248.9 454.7 250.1 455.3 252.1 455.0 256.1 454.5 257.3 454.1 258.9 453.7 260.9 453.3 262.1 453.1 266.9 454.2 267.7 454.7 268.2 455.1 268.5 455.5 268.7 455.9 268.7 456.3 268.4 456.7 268.0 457.1 267.3 457.6 266.9 457.8 262.9 458.7Z" fill="none" stroke="#111" stroke-width="0.74" stroke-linejoin="round"/>
<path d="M233.7 457.9 231.7 458.0 231.3 457.9 230.1 456.7 229.3 455.9 228.9 455.3 228.7 454.7 228.5 453.5 228.5 452.7 228.7 451.5 228.9 450.7 229.5 449.9 230.7 448.7 231.3 448.1 231.7 448.0 233.7 448.1 235.7 448.3 236.1 448.4 238.9 450.0 240.4 451.1 241.5 451.9 242.4 452.7 243.2 453.5 243.8 454.3 244.0 454.7 244.1 455.1 243.9 455.5 243.5 455.9 242.9 456.3 241.7 456.8 240.5 457.1 238.9 457.4 237.3 457.6 233.7 457.9Z M262.9 457.1 262.1 457.4 261.7 457.3 261.3 457.2 260.3 456.7 259.8 456.3 259.7 455.9 260.1 455.5 260.7 455.1 261.7 454.7 262.1 454.6 262.4 454.7 263.4 455.1 264.1 455.5 264.5 455.9 264.4 456.3 263.8 456.7 262.9 457.1Z" fill="none" stroke="#111" stroke-width="0.78" stroke-linejoin="round"/>
<path d="M234.9 456.7 233.3 456.9 231.7 457.0 231.3 456.8 230.5 455.9 229.9 455.1 229.4 454.3 229.2 453.9 229.0 453.1 229.1 452.7 229.2 452.3 229.5 451.5 230.0 450.7 230.6 449.9 231.3 449.2 231.7 449.0 233.7 449.1 235.7 449.4 236.1 449.5 237.8 450.7 239.3 451.9 240.1 452.7 240.4 453.1 240.7 453.5 240.9 453.9 240.9 454.3 240.8 454.7 240.4 455.1 239.7 455.6 238.9 455.9 237.7 456.2 236.5 456.5 234.9 456.7Z" fill="none" stroke="#111" stroke-width="0.82" stroke-linejoin="round"/>
<path d="M233.3 455.6 231.7 455.8 231.3 455.5 230.7 454.7 230.4 453.9 230.2 453.1 230.2 452.7 230.3 452.3 230.6 451.5 231.1 450.7 231.3 450.5 231.7 450.2 234.7 450.7 235.7 450.9 236.1 451.1 236.6 451.5 237.3 452.3 237.6 452.7 237.8 453.1 237.8 453.5 237.7 453.9 237.4 454.3 236.8 454.7 236.1 455.0 235.7 455.1 233.3 455.6Z" fill="none" stroke="#111" stroke-width="0.86" stroke-linejoin="round"/>
<path d="M231.7 453.7 231.6 453.5 231.5 453.1 231.5 452.7 231.7 452.3 232.3 452.7 232.5 453.1 232.1 453.5 231.7 453.7Z" fill="none" stroke="#111" stroke-width="0.9" stroke-linejoin="round"/>
<rect x="217.3" y="413.5" width="61.7" height="61.3" fill="none" stroke="#555" stroke-width="0.9"/>
<path d="M217.3 440.2H279.0M240.8 413.5V474.8" stroke="#555" stroke-width="0.9" fill="none"/>
<text x="212.8" y="422.1" font-size="6.4" text-anchor="end" fill="#1a1a1a" stroke="#1a1a1a" stroke-width="0.25">10</text>
<text x="212.7" y="418.8" font-size="4.3" text-anchor="start" fill="#1a1a1a" stroke="#1a1a1a" stroke-width="0.25">4</text>
<text x="212.8" y="446.1" font-size="6.4" text-anchor="end" fill="#1a1a1a" stroke="#1a1a1a" stroke-width="0.25">10</text>
<text x="212.7" y="442.8" font-size="4.3" text-anchor="start" fill="#1a1a1a" stroke="#1a1a1a" stroke-width="0.25">3</text>
<text x="213.4" y="469.4" font-size="6.4" text-anchor="end" fill="#1a1a1a" stroke="#1a1a1a" stroke-width="0.25">0</text>
<text x="225.6" y="483.8" font-size="6.4" text-anchor="middle" fill="#1a1a1a" stroke="#1a1a1a" stroke-width="0.25">0</text>
<text x="246.9" y="483.8" font-size="6.4" text-anchor="middle" fill="#1a1a1a" stroke="#1a1a1a" stroke-width="0.25">10</text>
<text x="250.2" y="480.2" font-size="4.3" text-anchor="start" fill="#1a1a1a" stroke="#1a1a1a" stroke-width="0.25">3</text>
<text x="271.5" y="483.8" font-size="6.4" text-anchor="middle" fill="#1a1a1a" stroke="#1a1a1a" stroke-width="0.25">10</text>
<text x="274.8" y="480.2" font-size="4.3" text-anchor="start" fill="#1a1a1a" stroke="#1a1a1a" stroke-width="0.25">4</text>
<path d="M215.4 420.9H217.3 M215.4 444.1H217.3 M215.4 467.0H217.3 M216.10000000000002 437.1H217.3 M216.10000000000002 433.0H217.3 M216.10000000000002 430.1H217.3 M216.10000000000002 427.9H217.3 M216.10000000000002 426.1H217.3 M216.10000000000002 424.5H217.3 M216.10000000000002 423.2H217.3 M216.10000000000002 422.0H217.3 M216.10000000000002 446.0H217.3 M216.10000000000002 447.9H217.3 M216.10000000000002 449.8H217.3 M216.10000000000002 451.7H217.3 M216.10000000000002 453.6H217.3 M216.10000000000002 455.5H217.3 M216.10000000000002 457.4H217.3 M216.10000000000002 459.3H217.3 M216.10000000000002 461.2H217.3 M216.10000000000002 463.1H217.3 M216.10000000000002 465.0H217.3 M216.10000000000002 468.3H217.3 M216.10000000000002 469.6H217.3 M216.10000000000002 471.0H217.3 M216.10000000000002 472.5H217.3 M225.5 474.8V476.7 M247.5 474.8V476.7 M272.1 474.8V476.7 M254.9 474.8V476.0 M259.2 474.8V476.0 M262.3 474.8V476.0 M264.7 474.8V476.0 M266.6 474.8V476.0 M268.3 474.8V476.0 M269.7 474.8V476.0 M271.0 474.8V476.0 M227.4 474.8V476.0 M229.3 474.8V476.0 M231.2 474.8V476.0 M233.1 474.8V476.0 M235.0 474.8V476.0 M236.9 474.8V476.0 M238.8 474.8V476.0 M240.7 474.8V476.0 M242.6 474.8V476.0 M244.5 474.8V476.0 M224.2 474.8V476.0 M222.9 474.8V476.0 M221.5 474.8V476.0 M220.0 474.8V476.0" stroke="#555" stroke-width="0.8" fill="none"/>
<path d="M233.7 528.7 231.7 528.9 231.3 528.7 230.3 527.5 229.7 526.7 229.2 525.9 228.9 525.2 228.8 524.3 228.8 523.5 228.9 522.3 229.0 521.9 229.5 521.1 230.3 519.9 231.3 518.7 231.7 518.5 233.7 518.7 236.1 519.0 238.1 519.8 239.7 520.7 240.8 521.5 241.6 522.3 241.9 522.7 242.1 523.1 242.2 523.5 242.2 523.9 242.0 524.3 241.5 525.1 240.6 525.9 239.3 526.8 237.7 527.7 236.1 528.4 233.7 528.7Z" fill="#2a2a2a" stroke="none"/>
<path d="M237.7 534.4 236.1 534.6 235.7 534.6 233.7 534.6 231.7 534.5 231.3 534.3 228.9 532.6 228.4 531.5 227.9 530.3 227.5 529.1 227.0 527.1 226.7 525.1 226.6 523.9 226.7 523.1 226.8 521.9 227.1 519.9 227.5 518.3 227.9 517.1 228.4 515.9 228.9 514.8 231.3 513.1 231.7 512.9 233.7 512.8 236.1 512.8 240.1 513.3 244.1 514.1 250.1 514.5 255.7 514.8 262.1 514.6 264.9 515.2 266.9 515.5 270.9 516.8 271.7 517.3 273.4 518.7 274.6 519.9 275.0 520.3 275.5 521.1 276.0 522.3 276.2 523.1 276.2 523.5 276.2 523.9 276.0 524.7 275.5 525.9 275.0 526.7 274.5 527.3 273.9 527.9 272.9 528.7 271.7 529.7 270.9 530.2 267.7 531.2 266.9 531.5 264.9 531.8 262.1 532.4 255.7 532.2 250.1 532.5 244.1 533.1 241.3 533.7 237.7 534.4Z" fill="none" stroke="#111" stroke-width="0.55" stroke-linejoin="round"/>
<path d="M237.7 533.6 236.1 533.9 235.7 533.9 233.7 533.9 231.7 533.8 231.3 533.6 228.9 531.8 228.4 530.7 227.8 529.1 227.5 527.9 227.2 526.3 227.0 525.1 227.0 523.9 227.0 522.7 227.1 521.5 227.6 519.1 228.2 517.1 228.9 515.6 231.3 513.8 231.7 513.6 233.7 513.5 236.1 513.5 240.1 514.2 244.1 515.0 247.7 515.3 250.1 515.6 256.1 515.8 259.7 515.5 262.1 515.4 264.9 516.0 266.9 516.4 270.9 517.8 271.3 518.0 272.9 519.5 274.0 520.7 274.5 521.4 274.8 521.9 275.1 522.7 275.2 523.5 275.1 523.9 274.9 524.7 274.8 525.1 274.5 525.6 274.0 526.3 272.9 527.5 271.7 528.6 270.9 529.2 267.3 530.5 266.9 530.6 264.9 531.0 262.1 531.6 259.7 531.5 256.1 531.2 249.7 531.5 244.1 532.1 240.9 532.9 237.7 533.6Z" fill="none" stroke="#111" stroke-width="0.59" stroke-linejoin="round"/>
<path d="M235.3 533.1 233.7 533.1 231.7 533.1 231.3 532.9 229.3 531.3 228.9 531.0 228.4 529.9 227.9 528.3 227.5 526.7 227.2 524.3 227.2 523.5 227.3 522.7 227.4 521.5 227.6 520.3 227.9 519.1 228.3 517.9 228.9 516.4 231.3 514.5 231.7 514.3 233.7 514.3 236.1 514.3 238.9 514.8 240.9 515.2 244.1 516.0 247.7 516.4 250.1 516.7 256.1 516.9 260.1 516.4 262.1 516.3 264.9 516.9 266.9 517.3 268.9 518.0 270.9 518.9 271.6 519.5 272.7 520.7 273.5 521.9 273.8 522.7 273.9 523.5 273.9 523.9 273.6 524.7 273.5 525.1 273.0 525.9 272.4 526.7 271.6 527.5 270.9 528.1 268.9 529.0 266.9 529.7 264.9 530.1 262.1 530.7 260.1 530.6 256.1 530.1 250.1 530.3 244.1 531.1 241.7 531.8 238.9 532.5 236.1 533.1 235.3 533.1Z" fill="none" stroke="#111" stroke-width="0.63" stroke-linejoin="round"/>
<path d="M233.7 532.3 231.7 532.3 231.3 532.1 228.9 530.1 228.3 528.7 228.0 527.5 227.8 526.7 227.6 525.1 227.5 523.5 227.6 521.9 227.9 520.3 228.3 518.7 228.6 517.9 228.9 517.3 231.3 515.3 231.7 515.1 233.7 515.1 236.1 515.2 238.5 515.7 240.5 516.1 244.1 517.2 247.7 517.7 250.1 518.1 256.1 518.1 259.3 517.6 261.7 517.3 262.1 517.3 264.9 518.0 266.9 518.3 268.9 519.2 270.9 520.2 271.4 520.7 271.9 521.5 272.3 522.3 272.6 523.1 272.6 523.5 272.6 523.9 272.3 524.7 271.9 525.5 271.7 525.9 271.3 526.4 270.9 526.8 268.9 527.8 266.9 528.7 264.9 529.0 262.1 529.7 261.7 529.7 259.3 529.4 256.1 528.9 250.1 528.9 244.1 530.0 242.1 530.6 240.1 531.2 236.1 532.2 233.7 532.3Z" fill="none" stroke="#111" stroke-width="0.67" stroke-linejoin="round"/>
<path d="M236.9 531.1 236.1 531.3 235.7 531.4 233.7 531.4 231.7 531.4 231.3 531.3 228.9 529.1 228.6 528.3 228.3 527.1 228.0 525.9 227.9 525.1 227.8 523.9 227.9 522.3 228.3 520.3 228.6 519.1 228.9 518.3 231.3 516.1 231.7 516.0 233.7 516.0 236.1 516.1 238.1 516.6 240.5 517.2 242.1 517.8 244.1 518.5 247.3 519.1 250.1 519.7 256.1 519.5 259.3 518.9 261.7 518.4 262.1 518.4 264.9 519.1 266.9 519.6 267.3 519.7 269.0 520.7 270.1 521.5 270.9 522.2 271.1 522.7 271.2 523.1 271.3 523.5 271.2 523.9 271.1 524.3 270.9 524.8 270.1 525.5 269.6 525.9 268.5 526.6 266.9 527.4 264.9 527.9 262.1 528.6 261.7 528.6 259.3 528.1 256.1 527.5 250.1 527.3 246.5 528.1 244.1 528.6 242.1 529.4 240.5 530.0 236.9 531.1Z" fill="none" stroke="#111" stroke-width="0.71" stroke-linejoin="round"/>
<path d="M236.1 530.3 233.7 530.5 231.7 530.5 231.3 530.4 230.0 529.1 228.9 527.9 228.8 527.5 228.4 526.3 228.3 525.5 228.2 523.9 228.2 523.1 228.3 521.9 228.6 520.3 228.9 519.5 229.2 519.1 230.0 518.3 231.3 517.0 231.7 516.9 233.7 516.9 236.1 517.1 238.1 517.7 239.7 518.2 241.3 518.8 242.5 519.3 244.1 520.2 246.0 520.7 247.7 521.3 249.0 521.9 250.1 522.5 252.1 522.1 256.1 521.6 257.3 521.1 258.9 520.6 260.9 520.0 261.7 519.8 262.1 519.8 266.9 521.2 267.3 521.5 268.2 522.3 268.5 522.7 268.7 523.1 268.8 523.5 268.7 523.9 268.5 524.3 268.2 524.7 267.8 525.1 267.3 525.5 266.9 525.8 262.1 527.2 261.7 527.2 260.9 527.0 258.9 526.4 257.3 525.9 256.1 525.4 252.1 524.9 250.1 524.5 249.0 525.1 247.3 525.9 245.7 526.5 244.1 527.0 242.1 528.0 240.5 528.8 238.1 529.7 236.1 530.3Z" fill="none" stroke="#111" stroke-width="0.74" stroke-linejoin="round"/>
<path d="M232.1 529.5 231.7 529.5 231.3 529.3 230.0 527.9 229.1 526.7 228.9 526.4 228.8 525.9 228.5 524.3 228.5 523.5 228.6 522.7 228.7 521.9 228.9 521.0 230.0 519.5 231.3 518.1 231.7 517.9 235.7 518.1 236.1 518.2 237.3 518.6 239.7 519.6 240.9 520.3 241.6 520.7 242.2 521.1 242.9 521.7 243.5 522.3 243.8 522.7 244.0 523.1 244.1 523.5 244.0 523.9 243.9 524.3 243.6 524.7 243.3 525.1 242.5 525.9 241.7 526.5 240.7 527.1 239.7 527.6 238.5 528.2 236.1 529.2 234.1 529.4 232.1 529.5Z M262.5 525.1 262.1 525.3 261.7 525.2 260.8 524.7 260.2 524.3 259.8 523.9 259.7 523.5 259.8 523.1 260.2 522.7 260.8 522.3 261.5 521.9 262.1 521.7 263.3 522.3 264.0 522.7 264.4 523.1 264.6 523.5 264.4 523.9 264.0 524.3 263.3 524.7 262.5 525.1Z" fill="none" stroke="#111" stroke-width="0.78" stroke-linejoin="round"/>
<path d="M232.1 528.3 231.7 528.4 231.3 528.1 230.2 526.7 229.7 525.9 229.4 525.1 229.1 524.3 229.0 523.9 229.1 523.1 229.5 521.9 230.2 520.7 231.3 519.3 231.7 519.0 234.1 519.3 236.1 519.6 237.6 520.3 239.0 521.1 240.0 521.9 240.6 522.7 240.8 523.1 240.9 523.5 240.9 523.9 240.8 524.3 240.2 525.1 239.8 525.5 239.4 525.9 238.5 526.5 237.5 527.1 236.1 527.8 234.5 528.1 232.1 528.3Z" fill="none" stroke="#111" stroke-width="0.82" stroke-linejoin="round"/>
<path d="M232.9 526.7 231.7 526.9 231.3 526.6 230.7 525.5 230.3 524.3 230.2 523.5 230.3 523.1 230.5 522.3 230.9 521.5 231.3 520.8 231.7 520.5 234.5 521.0 235.7 521.2 236.1 521.4 236.8 521.9 237.2 522.3 237.5 522.7 237.7 523.1 237.9 523.5 237.8 523.9 237.7 524.3 237.5 524.7 236.7 525.5 236.1 526.0 235.1 526.3 232.9 526.7Z" fill="none" stroke="#111" stroke-width="0.86" stroke-linejoin="round"/>
<path d="M231.7 524.5 231.5 523.9 231.5 523.5 231.7 522.9 232.1 523.1 232.5 523.5 232.5 523.9 232.1 524.3 231.7 524.5Z" fill="none" stroke="#111" stroke-width="0.9" stroke-linejoin="round"/>
<rect x="217.3" y="488.3" width="61.7" height="60.8" fill="none" stroke="#555" stroke-width="0.9"/>
<path d="M217.3 507.5H279.0M239.5 488.3V549.1" stroke="#555" stroke-width="0.9" fill="none"/>
<text x="212.8" y="496.9" font-size="6.4" text-anchor="end" fill="#1a1a1a" stroke="#1a1a1a" stroke-width="0.25">10</text>
<text x="212.7" y="493.6" font-size="4.3" text-anchor="start" fill="#1a1a1a" stroke="#1a1a1a" stroke-width="0.25">4</text>
<text x="212.8" y="520.9" font-size="6.4" text-anchor="end" fill="#1a1a1a" stroke="#1a1a1a" stroke-width="0.25">10</text>
<text x="212.7" y="517.6" font-size="4.3" text-anchor="start" fill="#1a1a1a" stroke="#1a1a1a" stroke-width="0.25">3</text>
<text x="213.4" y="544.2" font-size="6.4" text-anchor="end" fill="#1a1a1a" stroke="#1a1a1a" stroke-width="0.25">0</text>
<text x="225.6" y="558.1" font-size="6.4" text-anchor="middle" fill="#1a1a1a" stroke="#1a1a1a" stroke-width="0.25">0</text>
<text x="246.9" y="558.1" font-size="6.4" text-anchor="middle" fill="#1a1a1a" stroke="#1a1a1a" stroke-width="0.25">10</text>
<text x="250.2" y="554.5" font-size="4.3" text-anchor="start" fill="#1a1a1a" stroke="#1a1a1a" stroke-width="0.25">3</text>
<text x="271.5" y="558.1" font-size="6.4" text-anchor="middle" fill="#1a1a1a" stroke="#1a1a1a" stroke-width="0.25">10</text>
<text x="274.8" y="554.5" font-size="4.3" text-anchor="start" fill="#1a1a1a" stroke="#1a1a1a" stroke-width="0.25">4</text>
<path d="M215.4 495.7H217.3 M215.4 518.9H217.3 M215.4 541.8H217.3 M216.10000000000002 511.9H217.3 M216.10000000000002 507.8H217.3 M216.10000000000002 504.9H217.3 M216.10000000000002 502.7H217.3 M216.10000000000002 500.9H217.3 M216.10000000000002 499.3H217.3 M216.10000000000002 498.0H217.3 M216.10000000000002 496.8H217.3 M216.10000000000002 520.8H217.3 M216.10000000000002 522.7H217.3 M216.10000000000002 524.6H217.3 M216.10000000000002 526.5H217.3 M216.10000000000002 528.4H217.3 M216.10000000000002 530.3H217.3 M216.10000000000002 532.2H217.3 M216.10000000000002 534.1H217.3 M216.10000000000002 536.0H217.3 M216.10000000000002 537.9H217.3 M216.10000000000002 539.8H217.3 M216.10000000000002 543.1H217.3 M216.10000000000002 544.4H217.3 M216.10000000000002 545.8H217.3 M216.10000000000002 547.3H217.3 M225.5 549.1V551.0 M247.5 549.1V551.0 M272.1 549.1V551.0 M254.9 549.1V550.3000000000001 M259.2 549.1V550.3000000000001 M262.3 549.1V550.3000000000001 M264.7 549.1V550.3000000000001 M266.6 549.1V550.3000000000001 M268.3 549.1V550.3000000000001 M269.7 549.1V550.3000000000001 M271.0 549.1V550.3000000000001 M227.4 549.1V550.3000000000001 M229.3 549.1V550.3000000000001 M231.2 549.1V550.3000000000001 M233.1 549.1V550.3000000000001 M235.0 549.1V550.3000000000001 M236.9 549.1V550.3000000000001 M238.8 549.1V550.3000000000001 M240.7 549.1V550.3000000000001 M242.6 549.1V550.3000000000001 M244.5 549.1V550.3000000000001 M224.2 549.1V550.3000000000001 M222.9 549.1V550.3000000000001 M221.5 549.1V550.3000000000001 M220.0 549.1V550.3000000000001" stroke="#555" stroke-width="0.8" fill="none"/>
<path d="M312.4 310.0 310.8 310.0 310.0 309.9 309.6 309.8 308.8 309.4 308.4 309.0 308.0 308.6 307.6 308.0 307.2 307.2 306.9 306.4 306.6 305.6 306.3 304.4 305.9 302.0 305.7 299.2 305.6 294.4 305.6 290.8 305.6 288.4 305.9 285.2 306.1 283.6 306.3 282.4 306.6 281.2 307.0 280.0 307.4 279.2 308.0 278.2 308.4 277.8 308.8 277.4 309.2 277.2 310.0 276.9 310.8 276.8 312.4 276.8 313.2 276.9 313.6 277.1 314.0 277.3 314.4 277.6 314.8 278.0 315.4 278.8 315.8 279.6 316.1 280.4 316.5 281.6 316.7 282.4 317.1 284.8 317.4 288.0 317.5 292.4 317.4 296.0 317.4 298.4 317.1 302.0 316.9 303.2 316.6 304.8 316.3 306.0 315.8 307.2 315.4 308.0 314.8 308.8 314.4 309.2 314.0 309.5 313.6 309.7 313.2 309.9 312.4 310.0Z" fill="#333" stroke="none"/>
<path d="M313.2 312.9 312.4 313.0 311.2 313.0 310.4 313.0 309.6 312.8 308.8 312.5 308.4 312.3 307.6 311.5 307.0 310.8 306.6 310.0 306.2 309.2 305.9 308.4 305.4 306.4 305.0 304.0 304.7 301.6 304.6 300.0 304.5 297.6 304.5 294.8 304.6 288.0 304.7 285.6 304.9 283.2 305.1 282.0 305.5 280.0 305.8 278.8 306.2 277.6 306.6 276.8 307.2 275.8 307.6 275.2 308.4 274.5 309.2 274.1 310.0 273.9 310.8 273.8 312.0 273.8 312.8 273.9 313.6 274.0 314.0 274.2 314.8 274.7 315.4 275.2 316.0 276.0 316.4 276.8 316.8 277.6 317.3 279.2 317.7 280.8 317.9 281.6 318.0 282.6 318.4 280.5 318.8 279.2 319.2 278.5 319.6 278.2 320.0 278.0 320.8 278.0 326.4 278.2 329.2 278.4 331.6 278.6 334.8 279.1 337.6 279.6 340.0 280.3 342.4 281.2 344.4 282.1 346.1 283.2 346.8 283.7 347.6 284.4 348.3 285.2 349.0 286.0 349.8 287.2 350.4 288.4 350.8 289.6 351.2 291.2 351.4 292.8 351.5 294.4 351.5 297.2 351.5 299.2 351.4 300.4 351.2 301.2 350.9 302.4 350.6 303.2 350.2 304.0 349.6 304.8 348.9 305.6 348.0 306.4 347.2 307.0 346.2 307.6 345.2 308.1 344.0 308.6 341.6 309.3 338.8 310.0 335.6 310.4 332.0 310.8 327.6 311.0 322.4 311.0 320.0 311.0 319.6 310.9 319.2 310.6 318.8 310.1 318.4 309.2 318.2 308.4 317.9 307.2 317.8 306.8 317.6 306.5 317.3 307.6 316.9 308.8 316.4 310.0 316.0 310.8 315.4 311.6 314.8 312.1 314.0 312.6 313.2 312.9Z" fill="none" stroke="#111" stroke-width="0.75" stroke-linejoin="round"/>
<path d="M312.8 312.0 312.0 312.1 310.8 312.1 309.6 311.9 308.8 311.5 308.4 311.3 307.9 310.8 307.5 310.4 307.0 309.6 306.6 308.8 306.3 308.0 305.7 306.0 305.3 303.6 305.0 300.4 304.8 296.0 304.9 289.2 304.9 286.8 305.1 284.8 305.5 282.0 305.8 280.4 306.3 278.8 306.6 278.0 307.2 276.9 307.9 276.0 308.4 275.5 309.2 275.1 310.0 274.8 310.8 274.7 312.4 274.8 313.2 274.9 314.0 275.2 314.4 275.4 314.8 275.7 315.2 276.1 315.7 276.8 316.2 277.6 316.7 278.8 317.1 280.0 317.5 281.6 317.7 283.2 317.9 284.8 318.0 286.2 318.8 282.3 319.2 281.3 319.6 280.8 320.0 280.6 320.4 280.6 323.6 280.7 328.0 280.9 331.6 281.3 334.4 281.8 336.0 282.2 337.2 282.5 338.4 282.9 339.6 283.4 340.8 283.9 341.6 284.4 342.4 284.9 343.3 285.6 344.2 286.4 344.9 287.2 345.4 288.0 346.1 289.2 346.6 290.4 346.9 291.6 347.1 292.8 347.2 294.4 347.2 296.4 347.2 298.8 347.1 300.0 347.0 300.8 346.7 301.6 346.4 302.4 346.0 303.2 345.4 304.0 344.8 304.6 344.1 305.2 343.2 305.8 342.4 306.3 341.6 306.6 340.4 307.1 339.2 307.5 338.0 307.8 335.6 308.3 332.8 308.7 329.2 308.9 324.8 309.1 320.0 309.0 319.6 308.9 319.2 308.5 318.8 307.8 318.6 307.2 318.4 306.4 318.2 305.2 318.0 302.6 317.9 303.6 317.7 304.0 317.6 304.3 317.4 305.6 317.0 307.2 316.6 308.4 316.0 309.6 315.6 310.2 315.2 310.7 314.8 311.1 314.4 311.4 313.6 311.8 312.8 312.0Z" fill="none" stroke="#111" stroke-width="0.76" stroke-linejoin="round"/>
<path d="M313.2 310.9 312.4 311.1 311.2 311.1 310.4 311.0 309.6 310.9 308.8 310.5 308.4 310.2 308.0 309.8 307.6 309.3 307.2 308.6 306.9 308.0 306.6 307.2 306.2 306.0 305.7 303.6 305.5 302.0 305.3 300.4 305.2 298.4 305.2 295.6 305.2 291.6 305.2 288.4 305.4 285.2 305.7 283.2 305.9 282.0 306.3 280.4 306.7 279.2 307.2 278.2 307.8 277.2 308.4 276.6 309.2 276.1 310.0 275.8 310.8 275.7 312.4 275.7 313.2 275.9 313.6 276.0 314.0 276.2 314.4 276.4 314.8 276.8 315.2 277.2 315.6 277.8 315.9 278.4 316.3 279.2 316.7 280.4 317.0 281.6 317.4 284.0 317.7 286.8 317.8 288.8 317.8 291.2 317.8 298.0 317.7 300.0 317.5 302.0 317.4 303.2 317.1 304.8 316.7 306.4 316.4 307.2 316.1 308.0 315.6 309.0 315.2 309.6 314.8 310.0 314.4 310.4 314.0 310.6 313.2 310.9Z M330.8 306.8 328.8 307.0 326.4 307.1 320.4 307.1 320.0 307.1 319.6 306.9 319.2 306.4 318.9 305.6 318.7 304.8 318.5 303.6 318.4 302.4 318.3 298.0 318.3 292.0 318.5 288.0 318.9 285.6 319.2 284.3 319.6 283.6 320.0 283.3 320.4 283.2 324.4 283.3 326.8 283.5 328.8 283.7 330.4 283.9 332.0 284.1 333.6 284.5 334.8 284.8 336.0 285.3 337.2 285.8 338.4 286.4 339.5 287.2 340.4 288.0 341.0 288.8 341.6 289.6 342.0 290.4 342.3 291.2 342.6 292.0 342.8 293.6 342.9 295.2 343.0 298.0 342.9 299.2 342.7 300.4 342.2 301.6 341.8 302.4 341.1 303.2 340.2 304.0 338.9 304.8 337.6 305.4 336.0 305.9 334.4 306.3 332.8 306.6 330.8 306.8Z" fill="none" stroke="#111" stroke-width="0.77" stroke-linejoin="round"/>
<path d="M312.4 310.0 310.8 310.0 310.0 309.9 309.6 309.8 308.8 309.4 308.4 309.0 308.0 308.6 307.6 308.0 307.2 307.2 306.9 306.4 306.6 305.6 306.3 304.4 305.9 302.0 305.7 299.2 305.5 294.4 305.6 290.8 305.6 288.4 305.8 285.2 306.1 283.6 306.3 282.4 306.6 281.2 307.0 280.0 307.4 279.2 308.0 278.2 308.4 277.8 308.8 277.4 309.2 277.2 310.0 276.9 310.8 276.8 312.4 276.8 313.2 276.9 313.6 277.1 314.0 277.3 314.4 277.6 314.8 278.0 315.4 278.8 315.8 279.6 316.1 280.4 316.5 281.6 316.7 282.4 317.1 284.8 317.4 288.0 317.5 292.4 317.4 296.0 317.4 298.4 317.3 300.0 317.1 302.0 316.9 303.2 316.6 304.8 316.3 306.0 315.8 307.2 315.4 308.0 314.8 308.8 314.4 309.2 314.0 309.5 313.6 309.7 313.2 309.9 312.4 310.0Z M323.6 305.2 320.4 305.2 320.0 305.2 319.6 304.8 319.2 304.0 319.1 303.6 318.9 302.0 318.8 300.0 318.7 296.4 318.8 292.8 318.9 290.4 319.0 288.8 319.2 287.6 319.6 286.4 320.0 285.9 320.4 285.8 325.2 286.0 327.2 286.2 328.8 286.4 330.8 286.8 332.8 287.3 334.3 288.0 335.6 288.8 336.5 289.6 336.9 290.0 337.5 290.8 338.1 292.0 338.3 292.8 338.5 293.6 338.6 294.4 338.7 295.6 338.7 297.6 338.6 298.8 338.5 299.6 338.3 300.4 337.8 301.2 337.6 301.6 336.8 302.4 336.2 302.8 335.6 303.2 334.4 303.7 332.8 304.3 330.8 304.7 328.8 305.0 326.4 305.1 323.6 305.2Z" fill="none" stroke="#111" stroke-width="0.78" stroke-linejoin="round"/>
<path d="M312.8 308.8 312.0 308.9 311.2 308.9 310.4 308.9 310.0 308.8 309.6 308.7 309.2 308.5 308.8 308.2 308.4 307.8 308.0 307.3 307.6 306.6 307.3 306.0 307.0 305.2 306.7 304.0 306.3 301.6 306.1 299.6 306.0 295.6 306.0 289.6 306.1 287.6 306.2 286.0 306.6 283.2 306.9 282.0 307.3 280.8 307.7 280.0 308.3 279.2 308.8 278.6 309.2 278.3 309.6 278.1 310.0 278.0 310.8 277.9 312.4 277.9 313.2 278.1 313.6 278.2 314.0 278.5 314.4 278.8 315.0 279.6 315.5 280.4 315.8 281.2 316.3 282.8 316.7 284.8 316.9 287.6 317.1 291.2 317.0 297.2 316.8 300.4 316.7 302.0 316.5 303.2 316.2 304.4 315.8 305.6 315.5 306.4 315.0 307.2 314.4 308.0 314.0 308.3 313.6 308.6 312.8 308.8Z M325.2 303.2 323.2 303.3 320.4 303.3 320.0 303.2 319.6 302.6 319.4 302.0 319.3 301.2 319.2 299.2 319.2 294.8 319.2 292.0 319.4 290.8 319.6 289.4 320.0 288.6 320.4 288.5 323.6 288.5 326.0 288.7 328.0 289.0 329.2 289.3 330.0 289.6 330.8 289.9 331.6 290.4 332.2 290.8 332.7 291.2 333.2 291.8 333.6 292.4 333.8 292.8 334.1 293.6 334.3 294.4 334.4 295.6 334.4 297.6 334.4 298.4 334.2 299.2 334.1 299.6 333.6 300.4 333.3 300.8 332.8 301.3 332.0 301.8 331.2 302.1 330.4 302.4 329.2 302.7 328.0 302.9 326.8 303.1 325.2 303.2Z" fill="none" stroke="#111" stroke-width="0.79" stroke-linejoin="round"/>
<path d="M312.8 307.6 312.0 307.7 311.2 307.8 310.4 307.7 310.0 307.6 309.6 307.4 309.2 307.2 308.8 306.8 308.4 306.4 308.0 305.7 307.7 305.2 307.4 304.4 307.2 303.6 306.9 302.4 306.7 301.2 306.5 299.2 306.4 295.2 306.4 289.6 306.6 286.4 307.0 284.0 307.3 282.8 307.6 281.9 308.0 281.1 308.4 280.4 308.8 280.0 309.2 279.6 309.6 279.4 310.0 279.2 310.8 279.1 312.4 279.1 313.2 279.3 313.6 279.5 314.0 279.8 314.4 280.2 314.8 280.7 315.2 281.5 315.4 282.0 315.9 283.6 316.3 285.6 316.5 288.0 316.6 291.2 316.6 296.8 316.4 299.6 316.3 301.2 316.1 302.4 315.8 303.6 315.6 304.4 315.2 305.3 314.8 306.1 314.4 306.6 314.0 307.0 313.6 307.3 313.2 307.5 312.8 307.6Z M324.8 301.2 322.8 301.3 320.4 301.4 320.0 301.1 319.8 300.4 319.6 299.2 319.6 297.6 319.6 294.4 319.7 293.2 319.8 292.0 320.0 291.4 320.4 291.1 322.8 291.1 324.4 291.3 325.6 291.4 326.8 291.8 328.0 292.3 328.8 292.8 329.2 293.3 329.7 294.0 329.9 294.4 330.1 295.2 330.1 296.0 330.1 296.8 330.1 297.6 330.0 298.4 329.9 298.8 329.7 299.2 329.4 299.6 329.0 300.0 328.0 300.5 327.2 300.8 326.4 301.0 324.8 301.2Z" fill="none" stroke="#111" stroke-width="0.8" stroke-linejoin="round"/>
<path d="M312.4 306.4 311.6 306.4 310.8 306.4 310.0 306.3 309.6 306.1 309.2 305.8 308.8 305.4 308.4 304.8 307.9 303.6 307.4 302.0 307.1 300.0 306.9 297.6 306.8 293.2 306.9 289.2 307.1 286.8 307.3 285.6 307.5 284.4 307.7 283.6 308.0 282.8 308.4 282.0 308.8 281.4 309.2 281.0 309.6 280.7 310.0 280.5 310.4 280.4 311.2 280.4 312.4 280.4 313.2 280.6 313.6 280.9 314.0 281.2 314.6 282.0 315.1 283.2 315.6 284.8 315.9 286.8 316.1 289.2 316.2 292.8 316.1 297.2 315.9 300.0 315.6 302.0 315.1 303.6 314.8 304.4 314.4 305.1 314.0 305.6 313.6 305.9 313.2 306.2 312.4 306.4Z M323.6 299.3 322.4 299.4 320.4 299.4 320.3 299.2 320.1 298.8 320.0 298.1 320.0 295.6 320.1 294.4 320.4 293.7 322.4 293.8 323.2 293.9 323.8 294.0 324.4 294.2 324.8 294.4 325.3 294.8 325.6 295.2 325.7 295.6 325.9 296.4 325.9 297.6 325.7 298.0 325.5 298.4 325.0 298.8 324.4 299.1 323.6 299.3Z" fill="none" stroke="#111" stroke-width="0.81" stroke-linejoin="round"/>
<path d="M312.8 304.8 312.4 304.9 311.6 305.0 310.8 305.0 310.4 304.9 310.0 304.8 309.6 304.5 309.2 304.2 308.8 303.6 308.6 303.2 308.1 302.0 307.7 300.4 307.5 298.4 307.4 295.6 307.4 290.8 307.5 288.4 307.8 286.0 308.2 284.4 308.8 283.2 309.2 282.6 309.6 282.3 310.0 282.0 310.4 281.9 310.8 281.8 312.0 281.8 312.8 282.0 313.2 282.1 313.6 282.4 314.0 282.9 314.4 283.6 314.6 284.0 315.0 285.2 315.3 286.8 315.5 288.4 315.6 291.2 315.6 295.2 315.5 298.0 315.3 300.0 315.1 301.2 314.9 302.0 314.4 303.2 314.0 303.9 313.6 304.4 313.2 304.7 312.8 304.8Z M321.2 297.4 320.8 297.5 320.4 297.2 320.4 296.7 320.6 296.4 320.8 296.3 321.2 296.4 321.6 296.8 321.6 297.2 321.2 297.4Z" fill="none" stroke="#111" stroke-width="0.82" stroke-linejoin="round"/>
<path d="M312.4 303.3 312.0 303.3 311.2 303.3 310.4 303.2 310.0 303.0 309.6 302.7 309.2 302.2 308.7 301.2 308.4 300.0 308.2 298.8 308.0 297.2 308.0 294.8 308.0 290.8 308.1 288.4 308.4 286.8 308.6 286.0 308.9 285.2 309.2 284.6 309.6 284.1 310.0 283.8 310.4 283.6 311.2 283.5 312.0 283.5 312.4 283.5 312.8 283.7 313.3 284.0 313.6 284.3 313.9 284.8 314.3 285.6 314.6 286.8 314.8 288.0 315.0 289.6 315.1 292.0 315.0 296.0 314.9 298.0 314.7 299.6 314.4 300.8 314.1 301.6 313.9 302.0 313.6 302.5 313.2 302.9 312.8 303.1 312.4 303.3Z" fill="none" stroke="#111" stroke-width="0.83" stroke-linejoin="round"/>
<path d="M312.4 301.2 312.0 301.3 311.6 301.4 310.8 301.3 310.4 301.1 310.0 300.8 309.6 300.3 309.2 299.4 308.9 298.0 308.8 296.8 308.7 294.8 308.7 291.2 308.8 289.5 309.1 288.0 309.2 287.4 309.4 286.8 309.6 286.5 310.0 286.0 310.4 285.7 310.8 285.5 311.2 285.5 312.0 285.5 312.4 285.6 312.8 285.8 313.2 286.2 313.6 286.9 313.8 287.6 314.1 288.8 314.2 290.0 314.3 292.0 314.3 294.8 314.3 296.4 314.1 298.0 313.8 299.2 313.6 300.0 313.2 300.6 312.8 301.0 312.4 301.2Z" fill="none" stroke="#111" stroke-width="0.84" stroke-linejoin="round"/>
<path d="M312.4 298.4 312.0 298.6 311.2 298.6 310.8 298.5 310.4 298.2 310.0 297.4 309.7 296.0 309.6 294.4 309.6 292.4 309.7 291.2 309.9 290.0 310.0 289.4 310.4 288.6 310.8 288.3 311.2 288.2 312.0 288.2 312.4 288.4 312.7 288.8 313.0 289.6 313.3 290.8 313.4 293.2 313.4 294.8 313.3 296.0 313.1 296.8 312.9 297.6 312.8 297.9 312.4 298.4Z" fill="none" stroke="#111" stroke-width="0.85" stroke-linejoin="round"/>
<rect x="294.4" y="267.2" width="61.7" height="61.4" fill="none" stroke="#555" stroke-width="0.9"/>
<path d="M294.4 296.7H356.1M318.4 267.2V328.6" stroke="#555" stroke-width="0.9" fill="none"/>
<text x="289.9" y="275.8" font-size="6.4" text-anchor="end" fill="#1a1a1a" stroke="#1a1a1a" stroke-width="0.25">10</text>
<text x="289.8" y="272.5" font-size="4.3" text-anchor="start" fill="#1a1a1a" stroke="#1a1a1a" stroke-width="0.25">4</text>
<text x="289.9" y="299.8" font-size="6.4" text-anchor="end" fill="#1a1a1a" stroke="#1a1a1a" stroke-width="0.25">10</text>
<text x="289.8" y="296.5" font-size="4.3" text-anchor="start" fill="#1a1a1a" stroke="#1a1a1a" stroke-width="0.25">3</text>
<text x="290.5" y="323.1" font-size="6.4" text-anchor="end" fill="#1a1a1a" stroke="#1a1a1a" stroke-width="0.25">0</text>
<text x="302.7" y="337.6" font-size="6.4" text-anchor="middle" fill="#1a1a1a" stroke="#1a1a1a" stroke-width="0.25">0</text>
<text x="324.0" y="337.6" font-size="6.4" text-anchor="middle" fill="#1a1a1a" stroke="#1a1a1a" stroke-width="0.25">10</text>
<text x="327.3" y="334.0" font-size="4.3" text-anchor="start" fill="#1a1a1a" stroke="#1a1a1a" stroke-width="0.25">3</text>
<text x="348.6" y="337.6" font-size="6.4" text-anchor="middle" fill="#1a1a1a" stroke="#1a1a1a" stroke-width="0.25">10</text>
<text x="351.9" y="334.0" font-size="4.3" text-anchor="start" fill="#1a1a1a" stroke="#1a1a1a" stroke-width="0.25">4</text>
<path d="M292.5 274.6H294.4 M292.5 297.8H294.4 M292.5 320.7H294.4 M293.2 290.8H294.4 M293.2 286.7H294.4 M293.2 283.8H294.4 M293.2 281.6H294.4 M293.2 279.8H294.4 M293.2 278.2H294.4 M293.2 276.9H294.4 M293.2 275.7H294.4 M293.2 299.7H294.4 M293.2 301.6H294.4 M293.2 303.5H294.4 M293.2 305.4H294.4 M293.2 307.3H294.4 M293.2 309.2H294.4 M293.2 311.1H294.4 M293.2 313.0H294.4 M293.2 314.9H294.4 M293.2 316.8H294.4 M293.2 318.7H294.4 M293.2 322.0H294.4 M293.2 323.3H294.4 M293.2 324.7H294.4 M293.2 326.2H294.4 M302.6 328.6V330.5 M324.6 328.6V330.5 M349.2 328.6V330.5 M332.0 328.6V329.8 M336.3 328.6V329.8 M339.4 328.6V329.8 M341.8 328.6V329.8 M343.7 328.6V329.8 M345.4 328.6V329.8 M346.8 328.6V329.8 M348.1 328.6V329.8 M304.5 328.6V329.8 M306.4 328.6V329.8 M308.3 328.6V329.8 M310.2 328.6V329.8 M312.1 328.6V329.8 M314.0 328.6V329.8 M315.9 328.6V329.8 M317.8 328.6V329.8 M319.7 328.6V329.8 M321.6 328.6V329.8 M301.3 328.6V329.8 M300.0 328.6V329.8 M298.6 328.6V329.8 M297.1 328.6V329.8" stroke="#555" stroke-width="0.8" fill="none"/>
<path d="M313.2 386.4 312.4 386.5 311.2 386.5 310.4 386.5 309.6 386.3 309.2 386.1 308.8 385.9 308.4 385.6 308.0 385.1 307.7 384.7 307.2 383.9 306.8 383.1 306.5 382.3 306.2 381.1 305.7 378.7 305.5 375.9 305.4 373.9 305.3 371.5 305.4 364.7 305.5 362.7 305.6 360.7 305.8 359.5 306.1 357.9 306.5 356.3 307.0 355.1 307.4 354.3 308.0 353.5 308.4 353.0 309.2 352.5 310.0 352.2 310.8 352.1 312.4 352.1 313.2 352.2 313.6 352.3 314.0 352.5 314.4 352.7 314.8 353.0 315.2 353.5 315.6 354.0 316.0 354.7 316.4 355.5 316.7 356.3 317.0 357.5 317.5 359.9 317.7 362.7 317.9 366.7 317.9 373.5 317.7 376.7 317.5 378.7 317.3 379.9 317.0 381.1 316.5 382.7 316.0 383.9 315.6 384.6 315.2 385.1 314.8 385.6 314.4 385.9 314.0 386.1 313.2 386.4Z" fill="#333" stroke="none"/>
<path d="M313.2 389.5 312.4 389.6 310.8 389.6 310.0 389.5 309.2 389.3 308.4 388.9 308.0 388.6 307.6 388.2 307.0 387.5 306.5 386.7 306.1 385.9 305.8 385.1 305.3 383.5 305.0 381.9 304.6 379.9 304.3 376.3 304.2 373.9 304.2 370.7 304.2 366.3 304.3 363.1 304.5 360.3 304.6 358.7 305.0 356.7 305.3 355.1 305.8 353.5 306.3 352.3 307.0 351.1 307.6 350.4 308.4 349.7 309.2 349.3 310.0 349.1 310.8 349.0 312.4 349.0 313.2 349.1 314.0 349.3 314.8 349.7 315.6 350.4 316.2 351.1 316.7 351.9 317.2 353.1 317.8 354.7 318.1 355.9 318.3 357.1 318.6 359.1 318.9 363.5 319.0 368.7 319.2 369.8 319.6 369.6 320.0 369.5 321.2 369.9 322.5 370.3 332.8 372.6 335.6 373.3 338.0 374.0 340.0 374.6 341.6 375.2 343.1 375.9 344.4 376.5 345.3 377.1 346.3 377.9 347.1 378.7 347.6 379.5 347.8 380.3 347.9 381.1 347.9 382.3 347.7 383.1 347.3 383.9 347.0 384.3 346.6 384.7 346.1 385.1 345.5 385.5 344.4 386.1 342.8 386.7 340.8 387.3 338.8 387.7 336.8 388.0 334.8 388.2 332.0 388.5 329.6 388.6 326.4 388.7 320.0 388.8 319.6 388.8 319.2 388.6 318.8 388.4 318.4 388.0 317.9 387.1 317.6 386.2 317.5 385.9 317.2 385.6 316.9 386.3 316.5 387.1 316.0 387.8 315.6 388.2 315.2 388.6 314.4 389.1 314.0 389.3 313.2 389.5Z" fill="none" stroke="#111" stroke-width="0.75" stroke-linejoin="round"/>
<path d="M313.6 388.4 312.8 388.6 311.6 388.6 310.4 388.6 309.6 388.4 308.8 388.1 308.4 387.9 308.0 387.5 307.3 386.7 306.8 386.0 306.4 385.1 306.1 384.3 305.7 383.1 305.4 381.9 305.0 379.9 304.7 376.7 304.6 374.7 304.5 371.9 304.5 367.1 304.6 363.9 304.7 361.9 304.9 359.5 305.1 358.3 305.5 356.3 305.9 354.7 306.4 353.5 307.0 352.3 307.6 351.5 308.0 351.1 308.8 350.5 309.6 350.2 310.0 350.1 310.8 350.0 312.4 350.0 313.2 350.1 314.0 350.3 314.8 350.7 315.6 351.5 316.2 352.3 316.6 353.1 317.1 354.3 317.4 355.1 317.8 356.7 318.2 358.7 318.3 360.3 318.6 363.9 318.7 366.7 318.7 371.1 318.8 372.2 319.2 371.6 319.6 371.4 320.0 371.3 320.8 371.5 322.2 371.9 328.8 373.2 331.6 373.8 334.4 374.6 337.2 375.4 338.8 376.1 340.2 376.7 341.2 377.3 342.1 377.9 342.9 378.7 343.4 379.5 343.7 380.3 343.8 381.1 343.7 382.3 343.5 383.1 343.3 383.5 343.0 383.9 342.4 384.5 341.6 385.0 340.8 385.4 340.0 385.7 338.8 386.1 336.4 386.7 333.2 387.2 330.0 387.5 327.6 387.6 324.8 387.7 320.4 387.7 319.6 387.7 319.2 387.5 318.8 387.2 318.5 386.7 318.3 386.3 318.0 385.5 317.8 384.7 317.6 382.8 317.5 383.5 317.3 383.9 317.2 384.1 316.6 385.5 316.0 386.6 315.6 387.1 314.8 387.9 314.4 388.1 313.6 388.4Z" fill="none" stroke="#111" stroke-width="0.76" stroke-linejoin="round"/>
<path d="M312.8 387.6 312.0 387.6 310.8 387.6 309.6 387.4 308.8 387.0 308.4 386.8 307.9 386.3 307.3 385.5 306.8 384.7 306.5 383.9 306.1 382.7 305.8 381.5 305.3 379.1 305.0 375.5 304.9 370.7 304.9 366.7 305.0 363.9 305.1 361.9 305.3 359.9 305.5 358.7 305.8 357.1 306.1 355.9 306.5 354.7 307.1 353.5 307.6 352.7 308.0 352.2 308.4 351.8 309.2 351.4 310.0 351.1 310.8 351.0 312.4 351.0 313.2 351.1 314.0 351.4 314.8 351.8 315.3 352.3 316.0 353.3 316.5 354.3 317.0 355.5 317.4 357.1 317.7 358.7 317.9 359.9 318.1 362.3 318.2 364.3 318.3 367.1 318.3 371.5 318.2 374.3 318.3 375.1 318.4 376.0 318.7 374.7 319.0 373.9 319.2 373.6 319.6 373.2 320.0 373.1 321.8 373.5 327.2 374.5 330.4 375.2 332.8 375.8 334.8 376.5 336.2 377.1 337.6 377.9 338.6 378.7 339.0 379.1 339.2 379.5 339.5 380.3 339.7 381.1 339.7 381.9 339.5 382.7 339.3 383.1 338.8 383.7 338.0 384.3 337.2 384.7 336.2 385.1 335.2 385.4 334.0 385.7 332.4 386.0 330.8 386.2 328.8 386.4 324.8 386.6 320.0 386.6 319.6 386.6 319.2 386.3 318.8 385.9 318.6 385.5 318.4 384.7 318.2 383.9 318.1 382.7 318.1 378.7 318.0 377.7 317.8 379.9 317.7 380.3 317.6 380.6 317.3 381.9 317.0 383.1 316.5 384.3 316.1 385.1 315.6 385.9 315.2 386.4 314.8 386.8 314.0 387.2 313.6 387.4 312.8 387.6Z" fill="none" stroke="#111" stroke-width="0.77" stroke-linejoin="round"/>
<path d="M313.2 386.4 312.4 386.5 311.2 386.5 310.4 386.5 309.6 386.3 309.2 386.1 308.8 385.9 308.4 385.6 308.0 385.2 307.7 384.7 307.2 383.9 306.8 383.1 306.5 382.3 306.2 381.1 305.7 378.7 305.5 375.9 305.4 373.9 305.3 371.5 305.4 364.7 305.5 362.7 305.6 360.7 305.8 359.5 306.1 357.9 306.5 356.3 307.0 355.1 307.4 354.3 308.0 353.4 308.4 353.0 309.2 352.5 310.0 352.2 310.8 352.1 312.4 352.1 313.2 352.2 313.6 352.3 314.0 352.5 314.4 352.7 314.8 353.0 315.2 353.4 315.6 354.0 316.0 354.7 316.4 355.5 316.7 356.3 317.0 357.5 317.5 359.9 317.7 362.7 317.9 366.7 317.9 373.5 317.7 376.7 317.5 378.7 317.3 379.9 316.9 381.5 316.5 382.7 316.0 383.9 315.6 384.6 315.2 385.2 314.8 385.6 314.4 385.9 314.0 386.1 313.2 386.4Z M324.0 385.5 320.0 385.5 319.6 385.4 319.2 385.1 319.0 384.7 318.7 383.9 318.6 382.7 318.5 380.7 318.6 378.7 318.7 377.5 319.0 376.3 319.2 375.6 319.6 375.0 320.0 374.9 321.2 375.1 325.2 375.7 328.0 376.3 330.4 376.9 332.1 377.5 332.9 377.9 333.6 378.3 334.2 378.7 334.7 379.1 335.0 379.5 335.2 379.9 335.4 380.3 335.5 381.1 335.5 381.9 335.5 382.3 335.3 382.7 335.0 383.1 334.5 383.5 333.9 383.9 332.9 384.3 332.0 384.6 330.0 385.0 327.2 385.3 324.0 385.5Z" fill="none" stroke="#111" stroke-width="0.78" stroke-linejoin="round"/>
<path d="M313.6 385.1 312.8 385.3 312.0 385.4 310.8 385.4 310.0 385.2 309.2 384.9 308.8 384.6 308.4 384.3 308.1 383.9 307.8 383.5 307.4 382.7 307.0 381.9 306.6 380.7 306.2 378.7 305.9 375.9 305.8 373.9 305.7 371.9 305.8 365.1 305.9 363.1 306.1 361.1 306.2 359.9 306.5 358.7 306.8 357.5 307.2 356.3 307.6 355.4 308.1 354.7 308.4 354.3 308.8 354.0 309.2 353.7 310.0 353.4 310.8 353.2 312.4 353.2 313.2 353.4 313.6 353.5 314.0 353.7 314.4 354.0 314.8 354.3 315.2 354.8 315.6 355.4 316.0 356.3 316.6 357.9 317.0 359.9 317.3 362.7 317.5 366.3 317.5 372.7 317.3 375.9 317.0 378.7 316.7 380.3 316.4 381.1 316.0 382.3 315.6 383.1 315.2 383.8 314.8 384.3 314.4 384.6 314.0 384.9 313.6 385.1Z M325.2 384.3 322.8 384.4 320.0 384.5 319.6 384.3 319.3 383.9 319.2 383.6 319.1 383.1 319.0 382.3 319.0 380.7 319.1 379.1 319.2 378.1 319.4 377.5 319.6 376.9 320.0 376.7 324.8 377.3 326.4 377.6 327.6 378.0 328.6 378.3 329.6 378.8 330.4 379.3 331.0 379.9 331.2 380.3 331.4 380.7 331.4 381.1 331.4 381.9 331.3 382.3 331.0 382.7 330.8 382.9 330.5 383.1 330.0 383.3 328.8 383.8 327.2 384.1 325.2 384.3Z" fill="none" stroke="#111" stroke-width="0.79" stroke-linejoin="round"/>
<path d="M313.2 384.0 312.8 384.1 312.0 384.2 311.2 384.2 310.4 384.1 309.6 383.8 309.2 383.6 308.8 383.3 308.4 382.8 308.0 382.3 307.6 381.5 307.1 379.9 306.6 377.9 306.4 375.5 306.2 373.5 306.2 371.5 306.2 365.5 306.3 363.5 306.5 361.9 306.6 360.7 306.9 359.5 307.1 358.7 307.4 357.5 307.8 356.7 308.4 355.8 308.8 355.3 309.2 355.0 309.6 354.8 310.0 354.6 310.8 354.5 312.4 354.5 313.2 354.6 313.6 354.8 314.0 355.0 314.4 355.3 314.9 355.9 315.2 356.3 315.6 357.1 316.1 358.7 316.6 360.7 316.8 363.1 317.0 366.7 317.0 372.3 316.8 375.5 316.7 377.1 316.5 378.3 316.3 379.5 315.9 380.7 315.6 381.5 315.2 382.3 314.8 382.8 314.4 383.3 314.0 383.6 313.6 383.8 313.2 384.0Z M324.8 383.1 322.8 383.3 320.4 383.4 320.0 383.4 319.7 383.1 319.6 382.9 319.5 382.3 319.4 381.5 319.4 380.3 319.6 379.2 319.8 378.7 320.0 378.5 320.4 378.5 322.4 378.7 324.4 379.0 325.8 379.5 326.5 379.9 326.8 380.2 326.9 380.3 327.2 380.7 327.3 381.1 327.3 381.5 327.3 381.9 327.0 382.3 326.3 382.7 325.6 382.9 324.8 383.1Z" fill="none" stroke="#111" stroke-width="0.8" stroke-linejoin="round"/>
<path d="M312.8 382.7 312.4 382.8 311.6 382.8 310.8 382.8 310.4 382.7 310.0 382.6 309.6 382.4 309.2 382.1 308.8 381.7 308.4 381.2 308.1 380.7 307.8 379.9 307.5 379.1 307.1 377.1 306.8 375.1 306.7 371.5 306.7 366.3 306.9 363.1 307.0 361.9 307.2 360.7 307.5 359.5 307.8 358.7 308.1 357.9 308.6 357.1 309.2 356.5 309.6 356.2 310.0 356.0 310.8 355.8 312.4 355.8 313.2 356.0 313.6 356.2 314.0 356.5 314.6 357.1 314.9 357.5 315.2 358.1 315.7 359.5 316.1 361.5 316.4 363.5 316.5 366.7 316.5 371.9 316.4 375.1 316.1 377.5 315.8 378.7 315.6 379.5 315.2 380.5 314.8 381.2 314.4 381.7 314.0 382.1 313.6 382.4 313.2 382.6 312.8 382.7Z M322.8 382.0 322.4 382.1 321.6 382.2 320.4 382.3 320.0 382.2 319.9 381.9 319.9 381.5 319.9 380.7 320.0 380.4 320.4 380.2 321.2 380.3 322.0 380.4 322.7 380.7 323.1 381.1 323.2 381.5 323.0 381.9 322.8 382.0Z" fill="none" stroke="#111" stroke-width="0.81" stroke-linejoin="round"/>
<path d="M312.8 381.2 312.4 381.3 311.6 381.3 310.8 381.3 310.4 381.2 310.0 381.1 309.6 380.8 309.2 380.5 308.8 380.0 308.4 379.2 308.2 378.7 307.8 377.5 307.5 375.9 307.3 373.9 307.2 370.7 307.3 365.9 307.5 363.1 307.8 361.1 308.1 360.3 308.4 359.4 308.8 358.6 309.2 358.1 309.6 357.8 310.0 357.5 310.4 357.4 311.2 357.3 312.4 357.3 312.8 357.4 313.2 357.5 313.6 357.8 314.0 358.1 314.4 358.6 314.8 359.4 315.0 359.9 315.4 361.1 315.7 362.7 315.9 364.7 316.0 367.5 315.9 372.3 315.8 374.7 315.5 376.7 315.3 377.9 315.0 378.7 314.8 379.2 314.4 379.9 314.0 380.5 313.6 380.8 313.2 381.1 312.8 381.2Z" fill="none" stroke="#111" stroke-width="0.82" stroke-linejoin="round"/>
<path d="M312.4 379.6 311.2 379.6 310.4 379.4 310.0 379.3 309.6 378.9 309.2 378.4 308.7 377.5 308.4 376.3 308.1 374.7 307.9 372.7 307.8 369.9 307.9 366.3 308.1 363.9 308.4 362.3 308.6 361.5 308.9 360.7 309.2 360.2 309.6 359.7 310.0 359.3 310.4 359.2 311.2 359.0 312.0 359.0 312.8 359.2 313.2 359.3 313.6 359.7 314.0 360.2 314.5 361.1 314.8 362.3 315.1 363.9 315.3 365.9 315.4 368.7 315.3 372.3 315.2 374.3 314.9 375.9 314.7 376.7 314.5 377.5 314.0 378.4 313.6 378.9 313.2 379.3 312.8 379.4 312.4 379.6Z" fill="none" stroke="#111" stroke-width="0.83" stroke-linejoin="round"/>
<path d="M312.0 377.5 311.2 377.5 310.8 377.5 310.4 377.3 310.0 377.0 309.6 376.5 309.2 375.6 309.0 374.7 308.8 373.5 308.6 371.9 308.6 369.1 308.6 366.7 308.8 365.1 309.0 363.9 309.3 362.7 309.6 362.1 309.8 361.9 310.0 361.6 310.4 361.3 310.8 361.1 311.2 361.1 312.0 361.1 312.4 361.1 312.8 361.3 313.2 361.6 313.6 362.1 314.0 363.0 314.2 363.9 314.4 365.1 314.6 366.7 314.6 369.1 314.6 371.9 314.4 373.5 314.2 374.7 313.9 375.9 313.6 376.5 313.4 376.7 313.2 377.0 312.8 377.3 312.4 377.5 312.0 377.5Z" fill="none" stroke="#111" stroke-width="0.84" stroke-linejoin="round"/>
<path d="M312.0 374.7 311.2 374.7 310.8 374.6 310.4 374.2 310.0 373.5 309.9 373.1 309.8 372.3 309.7 371.5 309.6 369.9 309.6 367.9 309.7 366.7 309.8 365.9 310.0 365.1 310.4 364.4 310.8 364.0 311.2 363.9 312.0 363.9 312.4 364.0 312.8 364.4 313.2 365.1 313.3 365.5 313.4 366.3 313.5 367.1 313.6 368.7 313.6 370.7 313.5 371.9 313.4 372.7 313.2 373.5 312.8 374.2 312.4 374.6 312.0 374.7Z" fill="none" stroke="#111" stroke-width="0.85" stroke-linejoin="round"/>
<rect x="294.4" y="341.5" width="61.7" height="60.5" fill="none" stroke="#555" stroke-width="0.9"/>
<path d="M294.4 367.2H356.1M319.2 341.5V402.0" stroke="#555" stroke-width="0.9" fill="none"/>
<text x="289.9" y="350.1" font-size="6.4" text-anchor="end" fill="#1a1a1a" stroke="#1a1a1a" stroke-width="0.25">10</text>
<text x="289.8" y="346.8" font-size="4.3" text-anchor="start" fill="#1a1a1a" stroke="#1a1a1a" stroke-width="0.25">4</text>
<text x="289.9" y="374.1" font-size="6.4" text-anchor="end" fill="#1a1a1a" stroke="#1a1a1a" stroke-width="0.25">10</text>
<text x="289.8" y="370.8" font-size="4.3" text-anchor="start" fill="#1a1a1a" stroke="#1a1a1a" stroke-width="0.25">3</text>
<text x="290.5" y="397.4" font-size="6.4" text-anchor="end" fill="#1a1a1a" stroke="#1a1a1a" stroke-width="0.25">0</text>
<text x="302.7" y="411.0" font-size="6.4" text-anchor="middle" fill="#1a1a1a" stroke="#1a1a1a" stroke-width="0.25">0</text>
<text x="324.0" y="411.0" font-size="6.4" text-anchor="middle" fill="#1a1a1a" stroke="#1a1a1a" stroke-width="0.25">10</text>
<text x="327.3" y="407.4" font-size="4.3" text-anchor="start" fill="#1a1a1a" stroke="#1a1a1a" stroke-width="0.25">3</text>
<text x="348.6" y="411.0" font-size="6.4" text-anchor="middle" fill="#1a1a1a" stroke="#1a1a1a" stroke-width="0.25">10</text>
<text x="351.9" y="407.4" font-size="4.3" text-anchor="start" fill="#1a1a1a" stroke="#1a1a1a" stroke-width="0.25">4</text>
<path d="M292.5 348.9H294.4 M292.5 372.1H294.4 M292.5 395.0H294.4 M293.2 365.1H294.4 M293.2 361.0H294.4 M293.2 358.1H294.4 M293.2 355.9H294.4 M293.2 354.1H294.4 M293.2 352.5H294.4 M293.2 351.2H294.4 M293.2 350.0H294.4 M293.2 374.0H294.4 M293.2 375.9H294.4 M293.2 377.8H294.4 M293.2 379.7H294.4 M293.2 381.6H294.4 M293.2 383.5H294.4 M293.2 385.4H294.4 M293.2 387.3H294.4 M293.2 389.2H294.4 M293.2 391.1H294.4 M293.2 393.0H294.4 M293.2 396.3H294.4 M293.2 397.6H294.4 M293.2 399.0H294.4 M293.2 400.5H294.4 M302.6 402.0V403.9 M324.6 402.0V403.9 M349.2 402.0V403.9 M332.0 402.0V403.2 M336.3 402.0V403.2 M339.4 402.0V403.2 M341.8 402.0V403.2 M343.7 402.0V403.2 M345.4 402.0V403.2 M346.8 402.0V403.2 M348.1 402.0V403.2 M304.5 402.0V403.2 M306.4 402.0V403.2 M308.3 402.0V403.2 M310.2 402.0V403.2 M312.1 402.0V403.2 M314.0 402.0V403.2 M315.9 402.0V403.2 M317.8 402.0V403.2 M319.7 402.0V403.2 M321.6 402.0V403.2 M301.3 402.0V403.2 M300.0 402.0V403.2 M298.6 402.0V403.2 M297.1 402.0V403.2" stroke="#555" stroke-width="0.8" fill="none"/>
<path d="M313.2 459.0 312.4 459.1 311.6 459.2 310.4 459.2 309.6 459.0 308.8 458.7 308.4 458.4 308.0 458.1 307.6 457.6 307.2 457.0 306.8 456.3 306.5 455.6 306.1 454.4 305.7 452.4 305.3 449.6 305.1 445.2 305.1 438.4 305.3 434.4 305.5 432.8 305.8 431.2 306.1 430.0 306.5 428.8 307.1 427.6 307.6 426.8 308.0 426.3 308.4 426.0 308.8 425.7 309.6 425.4 310.4 425.2 312.0 425.2 312.8 425.3 313.2 425.4 314.0 425.8 314.4 426.1 314.8 426.5 315.2 427.0 315.6 427.7 315.9 428.4 316.2 429.2 316.6 430.4 317.0 432.4 317.3 435.2 317.4 437.2 317.5 439.2 317.5 446.0 317.3 449.2 317.1 451.2 316.9 452.4 316.6 454.0 316.2 455.2 315.9 456.0 315.5 456.8 315.0 457.6 314.4 458.3 314.0 458.6 313.2 459.0Z" fill="#333" stroke="none"/>
<path d="M313.2 462.0 312.4 462.2 310.8 462.2 310.0 462.2 309.2 462.0 308.8 461.8 308.0 461.4 307.3 460.8 306.8 460.2 306.2 459.2 305.8 458.4 305.4 457.2 305.0 456.0 304.6 453.6 304.2 450.0 304.1 447.6 304.0 444.8 304.0 439.6 304.1 436.4 304.2 434.4 304.3 432.8 304.6 430.8 304.9 428.8 305.4 427.2 305.8 426.0 306.4 424.8 306.8 424.2 307.2 423.7 308.0 423.0 308.8 422.6 309.6 422.3 310.4 422.2 312.4 422.2 313.2 422.4 314.0 422.6 314.8 423.1 315.2 423.5 315.6 424.0 316.0 424.5 316.6 425.6 316.9 426.4 317.3 427.6 317.6 428.8 317.9 430.0 318.1 431.6 318.4 434.8 318.5 436.8 318.6 439.6 318.6 444.4 318.6 448.0 318.5 449.2 318.2 452.0 317.8 454.8 317.5 456.4 317.1 457.6 316.6 458.8 316.0 459.9 315.3 460.8 314.8 461.3 314.0 461.8 313.2 462.0Z M323.2 460.8 322.0 460.8 321.6 460.8 321.2 460.6 320.8 460.4 320.4 460.0 320.1 459.6 319.7 458.8 319.4 457.6 319.1 456.0 319.0 454.8 319.0 450.0 319.1 445.2 319.4 440.8 319.8 436.8 320.3 433.6 320.8 431.5 321.2 430.6 321.6 430.1 322.0 430.0 322.4 431.3 322.8 432.0 323.8 433.2 324.8 434.2 325.9 435.2 328.6 437.2 330.4 438.4 332.9 440.0 337.6 442.8 342.6 445.6 350.7 450.0 352.8 451.2 354.0 452.0 354.5 452.4 354.9 452.8 355.2 453.2 355.4 453.6 355.4 454.0 355.4 454.4 355.3 454.8 355.1 455.2 354.8 455.6 354.4 456.0 353.8 456.4 352.8 457.0 351.4 457.6 349.6 458.2 347.6 458.7 345.6 459.1 343.2 459.5 340.4 459.9 337.2 460.2 333.6 460.5 330.8 460.6 327.2 460.8 323.2 460.8Z" fill="none" stroke="#111" stroke-width="0.75" stroke-linejoin="round"/>
<path d="M312.4 461.2 311.6 461.3 310.4 461.2 309.6 461.1 309.2 461.0 308.4 460.7 308.0 460.4 307.2 459.6 306.8 459.0 306.2 458.0 305.9 457.2 305.3 455.2 305.0 453.6 304.7 452.0 304.6 450.4 304.5 448.8 304.4 446.0 304.3 443.2 304.4 439.2 304.4 436.0 304.7 432.8 305.0 430.8 305.3 429.2 305.8 427.6 306.1 426.8 306.7 425.6 307.2 424.8 307.6 424.4 308.0 424.0 308.8 423.5 309.6 423.3 310.4 423.2 311.6 423.1 312.4 423.2 313.2 423.3 313.6 423.5 314.4 423.9 314.8 424.2 315.4 424.8 315.9 425.6 316.3 426.4 316.7 427.2 317.1 428.4 317.4 429.6 317.9 432.4 318.2 436.0 318.3 440.8 318.3 444.8 318.2 447.6 318.1 449.6 317.9 452.0 317.4 454.8 317.0 456.4 316.5 457.6 316.0 458.7 315.4 459.6 314.8 460.2 314.0 460.8 313.2 461.1 312.4 461.2Z M331.2 459.6 326.0 459.8 322.0 459.8 321.6 459.8 321.2 459.6 320.7 459.2 320.2 458.4 319.9 457.6 319.7 456.8 319.5 456.0 319.4 455.2 319.4 454.0 319.5 447.6 319.7 444.0 319.8 441.6 320.2 438.0 320.5 436.4 320.8 435.2 321.2 434.1 321.6 433.5 322.0 433.4 322.4 434.5 322.8 435.1 323.2 435.6 324.5 436.8 326.7 438.4 329.1 440.0 332.5 442.0 343.6 448.1 346.9 450.0 348.1 450.8 349.2 451.6 350.0 452.4 350.3 452.8 350.5 453.2 350.6 453.6 350.7 454.0 350.6 454.4 350.5 454.8 350.3 455.2 349.9 455.6 349.4 456.0 348.8 456.4 347.9 456.8 346.4 457.4 345.2 457.7 343.6 458.1 341.6 458.5 340.0 458.8 335.6 459.3 331.2 459.6Z" fill="none" stroke="#111" stroke-width="0.76" stroke-linejoin="round"/>
<path d="M313.2 460.1 312.4 460.2 311.6 460.3 310.4 460.2 309.6 460.1 308.8 459.8 308.4 459.6 308.0 459.3 307.5 458.8 307.0 458.0 306.5 457.2 306.2 456.4 305.8 455.2 305.3 453.2 305.1 451.6 304.9 450.0 304.8 447.2 304.7 445.2 304.7 438.4 304.8 435.6 305.0 434.0 305.1 432.8 305.4 430.8 305.8 429.2 306.2 428.0 306.7 426.8 307.2 426.0 307.6 425.5 308.0 425.1 308.8 424.6 309.6 424.3 310.4 424.2 311.6 424.1 312.4 424.2 313.2 424.3 313.6 424.5 314.4 425.0 314.8 425.3 315.2 425.8 315.6 426.3 316.1 427.2 316.4 428.0 316.7 428.8 317.0 430.0 317.4 432.4 317.7 435.2 317.9 439.2 317.9 446.0 317.7 449.6 317.5 451.6 317.3 452.8 317.0 454.4 316.7 455.6 316.3 456.8 315.9 457.6 315.4 458.4 314.8 459.1 314.4 459.4 314.0 459.7 313.2 460.1Z M326.8 458.8 322.4 458.9 321.6 458.8 321.2 458.6 320.8 458.2 320.7 458.0 320.3 457.2 320.1 456.4 319.9 454.8 319.9 451.2 320.0 446.0 320.3 442.8 320.6 440.4 320.8 439.2 321.0 438.4 321.2 437.7 321.6 437.0 322.0 436.8 322.4 437.7 323.0 438.4 324.0 439.3 325.6 440.4 329.1 442.4 339.2 447.9 341.5 449.2 343.3 450.4 344.3 451.2 345.1 452.0 345.7 452.8 345.8 453.2 345.9 453.6 345.9 454.0 345.9 454.4 345.7 454.8 345.4 455.2 345.0 455.6 344.3 456.0 343.5 456.4 342.4 456.8 341.2 457.2 338.4 457.8 335.2 458.2 331.2 458.6 326.8 458.8Z" fill="none" stroke="#111" stroke-width="0.77" stroke-linejoin="round"/>
<path d="M313.6 458.8 313.2 459.0 312.4 459.1 311.2 459.2 310.0 459.1 309.2 458.9 308.8 458.7 308.4 458.4 308.0 458.1 307.6 457.6 307.1 456.8 306.7 456.0 306.2 454.8 305.7 452.8 305.3 450.0 305.2 447.6 305.1 445.2 305.1 438.4 305.3 434.4 305.5 432.8 305.8 431.2 306.2 429.6 306.7 428.4 307.1 427.6 307.6 426.8 308.0 426.3 308.4 426.0 308.8 425.7 309.6 425.4 310.4 425.2 312.0 425.2 312.8 425.3 313.2 425.4 314.0 425.8 314.4 426.1 314.8 426.5 315.2 427.0 315.6 427.7 315.9 428.4 316.2 429.2 316.6 430.4 317.0 432.4 317.3 434.8 317.4 436.8 317.5 438.8 317.5 445.2 317.4 448.8 317.0 452.0 316.5 454.4 316.1 455.6 315.8 456.4 315.3 457.2 314.8 457.9 314.4 458.3 314.0 458.6 313.6 458.8Z M330.4 457.6 326.4 457.8 322.0 457.9 321.6 457.8 321.2 457.6 320.8 457.0 320.5 456.0 320.3 455.2 320.3 454.4 320.3 450.4 320.5 446.4 320.8 443.5 321.2 441.4 321.6 440.5 322.0 440.2 322.4 440.9 322.8 441.3 323.6 441.9 324.3 442.4 326.5 443.6 334.0 447.4 336.0 448.5 337.7 449.6 338.8 450.4 339.8 451.2 340.5 452.0 341.0 452.8 341.2 453.6 341.2 454.0 341.2 454.4 340.9 454.8 340.5 455.2 339.6 455.8 339.1 456.0 337.9 456.4 336.0 456.9 333.2 457.3 330.4 457.6Z" fill="none" stroke="#111" stroke-width="0.78" stroke-linejoin="round"/>
<path d="M312.4 458.0 310.8 458.1 310.0 458.0 309.6 457.9 308.8 457.5 308.4 457.2 308.0 456.8 307.6 456.3 307.2 455.6 306.9 454.8 306.6 454.0 306.3 452.8 305.8 450.4 305.6 447.6 305.5 443.6 305.6 438.0 305.7 436.0 305.8 434.4 306.0 432.8 306.3 431.6 306.6 430.4 307.0 429.2 307.4 428.4 308.0 427.6 308.4 427.2 308.8 426.9 309.2 426.7 310.0 426.4 310.8 426.3 312.4 426.4 313.2 426.6 313.6 426.8 314.0 427.0 314.4 427.4 314.8 427.8 315.2 428.5 315.6 429.2 315.9 430.0 316.2 431.2 316.5 432.4 316.8 434.8 317.0 437.2 317.1 442.0 317.0 447.2 316.7 450.4 316.6 451.6 316.3 452.8 316.1 453.6 315.7 454.8 315.4 455.6 314.8 456.6 314.4 457.0 314.0 457.4 313.6 457.6 313.2 457.8 312.4 458.0Z M327.2 456.8 324.8 456.9 322.0 457.0 321.5 456.8 321.2 456.4 321.0 456.0 320.8 455.2 320.7 454.0 320.7 450.8 320.9 448.0 321.1 446.0 321.3 444.8 321.6 444.0 322.0 443.6 322.4 444.2 323.4 444.8 325.0 445.6 329.6 447.7 331.6 448.8 333.0 449.6 334.1 450.4 335.1 451.2 335.8 452.0 336.2 452.8 336.5 453.6 336.5 454.0 336.4 454.4 336.1 454.8 335.5 455.2 335.2 455.4 334.0 455.8 332.0 456.3 329.6 456.6 327.2 456.8Z" fill="none" stroke="#111" stroke-width="0.79" stroke-linejoin="round"/>
<path d="M312.0 456.8 310.4 456.8 309.6 456.6 309.2 456.5 308.8 456.2 308.4 455.8 308.0 455.4 307.7 454.8 307.3 454.0 307.0 453.2 306.6 451.6 306.2 449.2 306.0 446.8 306.0 442.0 306.0 437.6 306.2 434.8 306.6 432.4 307.0 431.2 307.3 430.4 307.7 429.6 308.2 428.8 308.8 428.2 309.2 427.9 310.0 427.7 310.8 427.6 311.6 427.6 312.4 427.6 313.2 427.8 313.6 428.1 314.0 428.4 314.4 428.8 314.9 429.6 315.3 430.4 315.6 431.2 315.9 432.0 316.1 433.2 316.4 435.6 316.6 438.0 316.7 443.2 316.6 446.8 316.3 450.0 316.1 451.2 315.9 452.4 315.5 453.6 315.2 454.3 314.8 455.1 314.4 455.6 314.0 456.0 313.6 456.3 313.2 456.6 312.8 456.7 312.0 456.8Z M328.0 455.6 326.0 455.9 324.0 456.0 322.0 456.0 321.6 455.8 321.3 455.2 321.1 454.4 321.2 451.6 321.3 449.6 321.5 448.0 321.6 447.6 322.0 447.0 322.4 447.4 322.8 447.6 326.4 449.0 327.6 449.6 328.8 450.3 330.2 451.2 330.8 451.8 331.3 452.4 331.5 452.8 331.7 453.6 331.7 454.0 331.6 454.4 331.1 454.8 330.1 455.2 329.2 455.4 328.0 455.6Z" fill="none" stroke="#111" stroke-width="0.8" stroke-linejoin="round"/>
<path d="M312.8 455.3 312.4 455.4 311.6 455.5 310.8 455.5 310.0 455.4 309.6 455.3 309.2 455.0 308.8 454.7 308.4 454.3 308.0 453.7 307.8 453.2 307.4 452.4 307.2 451.6 306.9 450.0 306.6 447.6 306.4 444.0 306.5 438.4 306.7 435.6 306.9 434.4 307.1 433.2 307.6 431.6 308.0 430.7 308.4 430.1 308.9 429.6 309.2 429.4 309.6 429.1 310.0 429.0 310.8 428.9 312.0 428.9 312.8 429.1 313.2 429.2 313.6 429.5 314.0 429.9 314.4 430.4 314.8 431.1 315.0 431.6 315.5 433.2 315.9 435.2 316.0 437.2 316.2 440.4 316.1 445.2 316.0 447.6 315.7 450.0 315.3 452.0 315.0 452.8 314.6 453.6 314.4 454.0 314.0 454.5 313.6 454.9 313.2 455.2 312.8 455.3Z M325.2 454.8 323.6 455.0 322.0 455.0 321.8 454.8 321.6 454.5 321.5 454.0 321.6 452.4 321.8 451.2 322.0 450.4 322.4 450.6 324.0 451.1 325.1 451.6 326.0 452.2 326.6 452.8 326.8 453.2 327.0 453.6 327.0 454.0 326.7 454.4 326.0 454.6 325.2 454.8Z" fill="none" stroke="#111" stroke-width="0.81" stroke-linejoin="round"/>
<path d="M312.0 454.0 311.2 454.0 310.4 454.0 310.0 453.9 309.6 453.7 309.2 453.5 308.9 453.2 308.4 452.5 307.8 451.2 307.5 450.0 307.2 448.4 307.0 446.0 307.0 442.0 307.0 438.4 307.2 436.0 307.6 434.0 307.8 433.2 308.2 432.4 308.4 431.9 308.8 431.3 309.2 430.9 309.6 430.7 310.0 430.5 310.8 430.4 312.0 430.4 312.8 430.6 313.2 430.8 313.6 431.1 314.0 431.6 314.2 432.0 314.8 433.2 315.1 434.4 315.4 436.4 315.6 438.4 315.6 441.6 315.6 445.6 315.4 448.0 315.1 450.0 314.9 450.8 314.6 451.6 314.4 452.1 314.0 452.8 313.6 453.3 313.2 453.6 312.8 453.8 312.0 454.0Z M322.0 454.1 322.0 453.8 322.3 454.0 322.0 454.1Z" fill="none" stroke="#111" stroke-width="0.82" stroke-linejoin="round"/>
<path d="M312.8 452.1 312.4 452.2 312.0 452.3 310.8 452.3 310.4 452.3 310.0 452.2 309.6 451.9 309.2 451.6 308.7 450.8 308.2 449.6 308.0 448.4 307.7 446.8 307.6 444.0 307.6 440.0 307.7 437.6 308.0 435.6 308.2 434.8 308.5 434.0 308.8 433.4 309.2 432.8 309.6 432.5 310.0 432.2 310.4 432.1 310.8 432.1 311.6 432.1 312.4 432.2 312.8 432.3 313.2 432.6 313.6 433.1 314.0 433.8 314.4 434.9 314.6 436.0 314.9 437.6 315.0 440.0 315.0 444.0 314.9 446.0 314.7 448.0 314.4 449.5 314.0 450.6 313.6 451.3 313.2 451.8 312.8 452.1Z" fill="none" stroke="#111" stroke-width="0.83" stroke-linejoin="round"/>
<path d="M312.4 450.1 312.0 450.3 311.6 450.3 310.8 450.3 310.4 450.2 310.0 450.0 309.6 449.7 309.2 449.0 308.8 448.0 308.6 447.2 308.5 446.0 308.4 444.0 308.3 440.8 308.4 438.8 308.6 437.2 308.8 436.4 309.1 435.6 309.6 434.8 310.0 434.4 310.4 434.2 310.8 434.1 311.6 434.1 312.0 434.1 312.4 434.3 312.8 434.5 313.2 435.0 313.6 435.8 313.8 436.4 314.0 437.2 314.1 438.4 314.2 440.4 314.3 443.6 314.2 445.2 314.0 446.8 313.8 448.0 313.5 448.8 313.2 449.4 313.0 449.6 312.8 449.9 312.4 450.1Z" fill="none" stroke="#111" stroke-width="0.84" stroke-linejoin="round"/>
<path d="M312.0 447.4 311.6 447.5 310.8 447.5 310.4 447.3 310.3 447.2 310.0 446.9 309.7 446.0 309.5 445.2 309.4 444.4 309.4 442.8 309.4 440.8 309.4 439.6 309.6 438.6 310.0 437.6 310.3 437.2 310.4 437.1 310.8 436.9 311.2 436.8 311.6 436.9 312.0 437.0 312.4 437.3 312.6 437.6 312.8 437.9 312.9 438.4 313.1 439.2 313.2 440.0 313.2 441.2 313.2 443.2 313.2 444.4 313.1 445.2 312.8 446.5 312.4 447.1 312.0 447.4Z" fill="none" stroke="#111" stroke-width="0.85" stroke-linejoin="round"/>
<rect x="294.4" y="414.0" width="61.7" height="61.3" fill="none" stroke="#555" stroke-width="0.9"/>
<path d="M294.4 440.1H356.1M318.4 414.0V475.3" stroke="#555" stroke-width="0.9" fill="none"/>
<text x="289.9" y="422.6" font-size="6.4" text-anchor="end" fill="#1a1a1a" stroke="#1a1a1a" stroke-width="0.25">10</text>
<text x="289.8" y="419.3" font-size="4.3" text-anchor="start" fill="#1a1a1a" stroke="#1a1a1a" stroke-width="0.25">4</text>
<text x="289.9" y="446.6" font-size="6.4" text-anchor="end" fill="#1a1a1a" stroke="#1a1a1a" stroke-width="0.25">10</text>
<text x="289.8" y="443.3" font-size="4.3" text-anchor="start" fill="#1a1a1a" stroke="#1a1a1a" stroke-width="0.25">3</text>
<text x="290.5" y="469.9" font-size="6.4" text-anchor="end" fill="#1a1a1a" stroke="#1a1a1a" stroke-width="0.25">0</text>
<text x="302.7" y="484.3" font-size="6.4" text-anchor="middle" fill="#1a1a1a" stroke="#1a1a1a" stroke-width="0.25">0</text>
<text x="324.0" y="484.3" font-size="6.4" text-anchor="middle" fill="#1a1a1a" stroke="#1a1a1a" stroke-width="0.25">10</text>
<text x="327.3" y="480.7" font-size="4.3" text-anchor="start" fill="#1a1a1a" stroke="#1a1a1a" stroke-width="0.25">3</text>
<text x="348.6" y="484.3" font-size="6.4" text-anchor="middle" fill="#1a1a1a" stroke="#1a1a1a" stroke-width="0.25">10</text>
<text x="351.9" y="480.7" font-size="4.3" text-anchor="start" fill="#1a1a1a" stroke="#1a1a1a" stroke-width="0.25">4</text>
<path d="M292.5 421.4H294.4 M292.5 444.6H294.4 M292.5 467.5H294.4 M293.2 437.6H294.4 M293.2 433.5H294.4 M293.2 430.6H294.4 M293.2 428.4H294.4 M293.2 426.6H294.4 M293.2 425.0H294.4 M293.2 423.7H294.4 M293.2 422.5H294.4 M293.2 446.5H294.4 M293.2 448.4H294.4 M293.2 450.3H294.4 M293.2 452.2H294.4 M293.2 454.1H294.4 M293.2 456.0H294.4 M293.2 457.9H294.4 M293.2 459.8H294.4 M293.2 461.7H294.4 M293.2 463.6H294.4 M293.2 465.5H294.4 M293.2 468.8H294.4 M293.2 470.1H294.4 M293.2 471.5H294.4 M293.2 473.0H294.4 M302.6 475.3V477.2 M324.6 475.3V477.2 M349.2 475.3V477.2 M332.0 475.3V476.5 M336.3 475.3V476.5 M339.4 475.3V476.5 M341.8 475.3V476.5 M343.7 475.3V476.5 M345.4 475.3V476.5 M346.8 475.3V476.5 M348.1 475.3V476.5 M304.5 475.3V476.5 M306.4 475.3V476.5 M308.3 475.3V476.5 M310.2 475.3V476.5 M312.1 475.3V476.5 M314.0 475.3V476.5 M315.9 475.3V476.5 M317.8 475.3V476.5 M319.7 475.3V476.5 M321.6 475.3V476.5 M301.3 475.3V476.5 M300.0 475.3V476.5 M298.6 475.3V476.5 M297.1 475.3V476.5" stroke="#555" stroke-width="0.8" fill="none"/>
<path d="M311.2 529.1 310.4 529.1 309.6 529.1 308.8 529.0 308.4 528.9 308.0 528.8 307.6 528.5 307.2 528.2 306.8 527.7 306.4 527.1 306.0 526.3 305.7 525.4 305.4 524.6 305.1 523.4 304.9 522.2 304.7 520.6 304.6 518.2 304.5 513.0 304.6 507.8 304.7 506.2 304.9 504.2 305.1 503.0 305.3 501.8 305.7 500.6 306.0 499.8 306.4 498.9 306.9 498.2 307.2 497.8 307.6 497.5 308.0 497.2 308.8 497.0 309.6 496.9 310.4 496.9 311.2 496.9 312.0 497.1 312.4 497.4 313.0 497.8 313.3 498.2 313.9 499.0 314.2 499.8 314.5 500.6 315.1 502.6 315.4 505.0 315.6 507.8 315.7 511.8 315.7 517.4 315.4 521.0 315.0 523.8 314.7 525.0 314.4 525.8 314.1 526.6 313.6 527.4 313.2 528.0 312.8 528.4 312.4 528.6 312.0 528.9 311.2 529.1Z" fill="#333" stroke="none"/>
<path d="M311.6 531.9 310.8 532.0 309.6 532.0 308.8 531.9 308.4 531.9 307.6 531.6 307.2 531.3 306.8 531.0 306.1 530.2 305.6 529.4 305.2 528.6 304.9 527.8 304.6 526.6 304.1 524.6 303.7 521.4 303.5 516.6 303.5 509.4 303.7 504.6 304.1 501.4 304.6 499.4 304.9 498.2 305.4 497.0 305.8 496.2 306.4 495.4 306.8 495.0 307.2 494.7 307.6 494.4 308.4 494.1 309.2 494.0 310.4 494.0 311.2 494.0 312.0 494.2 312.4 494.4 313.2 494.8 313.6 495.2 314.0 495.7 314.6 496.6 315.0 497.4 315.5 499.0 315.8 500.2 316.1 501.4 316.4 504.0 316.7 502.6 317.2 499.6 317.6 497.9 318.0 497.0 318.4 496.4 318.8 496.2 320.0 497.7 320.8 498.5 322.3 499.8 324.4 501.4 329.3 504.6 342.8 513.2 345.2 514.8 347.2 516.2 348.7 517.4 349.5 518.2 350.2 519.0 350.4 519.4 350.7 520.2 350.8 520.6 350.8 521.4 350.8 522.2 350.6 523.0 350.3 523.8 350.1 524.2 349.6 525.0 349.3 525.4 348.8 525.9 347.9 526.6 346.4 527.6 344.4 528.5 342.0 529.3 340.0 529.9 337.6 530.4 334.8 530.8 332.0 531.2 328.8 531.4 326.0 531.6 322.4 531.7 318.8 531.7 318.4 531.6 318.0 531.4 317.6 531.0 317.2 530.3 317.0 529.8 316.5 528.2 316.0 524.9 315.8 526.2 315.4 527.4 315.0 528.6 314.4 529.8 313.8 530.6 313.2 531.2 312.4 531.6 311.6 531.9Z" fill="none" stroke="#111" stroke-width="0.75" stroke-linejoin="round"/>
<path d="M311.2 531.1 310.4 531.1 309.2 531.1 308.4 530.9 308.0 530.8 307.2 530.3 306.8 530.0 306.3 529.4 305.8 528.6 305.4 527.8 304.9 526.2 304.6 525.0 304.3 523.4 304.0 521.0 303.9 519.0 303.8 516.6 303.8 509.4 303.9 507.0 304.1 504.6 304.2 503.4 304.5 501.8 304.7 500.6 305.0 499.4 305.4 498.2 306.0 497.1 306.6 496.2 307.2 495.7 308.0 495.2 308.4 495.1 309.6 494.9 311.2 494.9 312.0 495.1 312.8 495.5 313.2 495.8 313.6 496.2 314.0 496.8 314.6 497.8 315.1 499.0 315.4 500.2 315.8 502.2 316.1 504.2 316.2 505.8 316.4 509.8 316.4 517.9 316.4 511.8 316.5 509.8 316.6 508.6 316.8 507.4 317.1 504.6 317.5 502.2 317.6 501.6 317.9 500.6 318.0 500.4 318.4 499.7 318.8 499.5 319.6 500.4 320.4 501.2 321.6 502.1 322.9 503.0 326.0 505.0 336.4 511.2 339.6 513.3 342.1 515.0 344.1 516.6 345.3 517.8 345.9 518.6 346.2 519.0 346.5 519.8 346.7 520.6 346.7 521.8 346.6 522.6 346.4 523.0 346.1 523.8 345.6 524.6 344.8 525.4 344.0 526.0 343.2 526.5 342.0 527.2 340.5 527.8 338.8 528.3 337.2 528.8 335.2 529.2 333.2 529.5 329.2 530.0 326.4 530.2 322.8 530.3 319.2 530.3 318.8 530.3 318.4 530.2 318.0 530.0 317.6 529.4 317.4 529.0 317.1 528.2 316.9 527.4 316.6 525.8 316.5 524.2 316.4 522.6 316.0 522.5 315.8 524.2 315.4 525.8 314.9 527.4 314.4 528.6 314.0 529.2 313.6 529.8 313.2 530.2 312.8 530.5 312.0 530.9 311.2 531.1Z" fill="none" stroke="#111" stroke-width="0.76" stroke-linejoin="round"/>
<path d="M312.0 529.9 311.6 530.0 310.8 530.1 309.6 530.1 308.8 530.1 308.4 530.0 307.6 529.6 307.2 529.3 306.6 528.6 306.1 527.8 305.7 527.0 305.4 526.2 305.0 525.0 304.6 522.6 304.3 520.2 304.2 518.2 304.1 515.8 304.2 508.6 304.3 506.6 304.4 504.6 304.6 503.4 304.9 501.8 305.1 500.6 305.5 499.4 306.0 498.3 306.6 497.4 307.2 496.7 307.6 496.4 308.4 496.0 309.2 495.9 310.8 495.9 311.6 496.0 312.0 496.1 312.4 496.3 312.8 496.5 313.2 496.9 313.6 497.4 314.0 497.9 314.4 498.7 314.7 499.4 315.1 500.6 315.5 502.6 315.8 505.4 316.0 507.4 316.0 509.8 316.0 516.2 315.9 520.2 315.7 521.8 315.5 523.4 315.3 524.6 314.9 525.8 314.5 527.0 314.1 527.8 313.6 528.6 313.2 529.1 312.8 529.5 312.4 529.7 312.0 529.9Z M328.4 528.6 326.4 528.8 324.0 528.9 318.8 529.0 318.4 528.8 318.0 528.5 317.6 527.8 317.5 527.4 317.2 526.6 317.0 525.4 316.9 524.2 316.8 522.6 316.8 516.6 317.0 511.8 317.3 507.8 317.6 505.4 318.0 503.8 318.4 503.0 318.8 502.7 320.0 503.8 321.7 505.0 323.7 506.2 332.4 511.1 335.2 512.8 337.6 514.4 339.4 515.8 340.7 517.0 341.7 518.2 342.1 519.0 342.3 519.4 342.5 520.2 342.6 521.4 342.5 522.2 342.3 523.0 341.8 523.8 341.5 524.2 340.8 524.9 340.2 525.4 339.2 526.0 338.0 526.5 336.7 527.0 335.2 527.5 333.6 527.8 332.0 528.1 330.4 528.4 328.4 528.6Z" fill="none" stroke="#111" stroke-width="0.77" stroke-linejoin="round"/>
<path d="M311.2 529.1 310.4 529.1 309.6 529.1 308.8 529.0 308.4 528.9 308.0 528.8 307.6 528.5 307.2 528.2 306.6 527.4 306.1 526.6 305.8 525.8 305.3 524.2 305.1 523.0 304.9 521.8 304.6 518.6 304.5 513.8 304.5 510.2 304.6 507.8 304.7 506.2 304.9 504.2 305.1 503.0 305.3 501.8 305.7 500.6 305.9 499.8 306.4 498.9 306.9 498.2 307.2 497.8 307.6 497.5 308.0 497.2 308.8 497.0 309.6 496.9 310.4 496.9 311.2 496.9 312.0 497.1 312.4 497.3 313.0 497.8 313.3 498.2 313.9 499.0 314.3 499.8 314.6 500.6 315.1 502.6 315.4 505.0 315.6 507.8 315.7 511.8 315.7 517.4 315.4 521.0 315.0 523.8 314.7 525.0 314.4 525.8 314.1 526.6 313.6 527.4 313.2 528.0 312.8 528.4 312.4 528.7 312.0 528.9 311.2 529.1Z M325.6 527.4 322.4 527.6 318.8 527.6 318.4 527.4 318.0 527.0 317.7 526.2 317.5 525.4 317.3 524.6 317.2 522.2 317.2 517.8 317.3 513.4 317.6 510.2 317.9 507.8 318.4 506.4 318.8 506.0 320.0 506.9 320.8 507.4 329.2 511.7 331.6 513.1 333.6 514.4 335.4 515.8 336.7 517.0 337.4 517.8 337.6 518.2 337.8 518.6 338.2 519.4 338.4 520.2 338.4 521.0 338.4 521.8 338.2 522.6 337.8 523.4 337.5 523.8 337.1 524.2 336.4 524.7 335.6 525.2 334.4 525.7 333.2 526.1 332.0 526.5 330.4 526.8 328.8 527.1 325.6 527.4Z" fill="none" stroke="#111" stroke-width="0.78" stroke-linejoin="round"/>
<path d="M311.6 527.9 311.2 528.0 310.4 528.1 309.6 528.1 308.8 528.0 308.0 527.6 307.6 527.4 307.2 527.0 306.9 526.6 306.7 526.2 306.3 525.4 305.7 523.8 305.3 521.8 305.0 519.0 304.9 515.0 304.9 509.0 305.1 505.8 305.3 504.2 305.5 503.0 305.8 501.8 306.3 500.6 306.7 499.8 307.2 499.0 307.6 498.6 308.0 498.4 308.4 498.2 308.8 498.0 309.6 497.9 310.4 497.9 311.2 498.0 312.0 498.3 312.4 498.5 312.8 498.8 313.2 499.3 313.5 499.8 313.9 500.6 314.2 501.4 314.7 503.0 315.0 505.0 315.2 507.4 315.3 510.6 315.3 516.2 315.2 519.4 314.9 521.8 314.7 523.0 314.4 524.2 314.0 525.3 313.6 526.1 313.2 526.7 312.8 527.2 312.4 527.5 312.0 527.7 311.6 527.9Z M322.0 526.2 318.8 526.2 318.4 526.0 318.1 525.4 317.9 525.0 317.7 524.2 317.6 523.0 317.5 521.4 317.6 517.8 317.7 514.2 317.9 512.2 318.1 511.0 318.4 509.8 318.8 509.2 320.5 510.2 324.8 512.1 326.8 513.1 328.8 514.2 330.4 515.2 331.7 516.2 332.9 517.4 333.5 518.2 333.7 518.6 333.9 519.0 334.2 519.8 334.3 520.6 334.3 521.4 334.2 522.2 334.0 522.6 333.8 523.0 333.4 523.4 332.9 523.8 332.3 524.2 331.5 524.6 330.4 525.0 329.2 525.3 328.0 525.6 325.2 526.0 322.0 526.2Z" fill="none" stroke="#111" stroke-width="0.79" stroke-linejoin="round"/>
<path d="M311.6 526.7 311.2 526.8 310.4 526.9 309.6 526.9 308.8 526.8 308.4 526.6 308.0 526.4 307.6 526.1 307.2 525.6 306.6 524.6 306.3 523.8 306.1 523.0 305.7 521.0 305.4 518.6 305.3 515.0 305.3 509.4 305.5 506.6 305.7 505.0 305.9 503.8 306.2 502.6 306.5 501.8 306.8 501.0 307.2 500.4 307.6 499.9 308.0 499.6 308.4 499.4 308.8 499.2 309.6 499.1 310.8 499.1 311.6 499.3 312.0 499.5 312.4 499.7 312.8 500.1 313.2 500.7 313.7 501.8 314.2 503.4 314.5 505.0 314.8 507.0 314.9 510.2 314.9 515.4 314.8 518.2 314.7 519.8 314.5 521.0 314.1 523.0 313.7 524.2 313.4 525.0 312.9 525.8 312.5 526.2 312.0 526.5 311.6 526.7Z M324.4 524.6 322.0 524.8 319.2 524.9 318.8 524.9 318.4 524.5 318.1 523.4 318.0 522.2 318.0 518.2 318.1 515.8 318.3 514.2 318.4 513.4 318.8 512.5 319.2 512.6 320.1 513.0 323.6 514.4 325.2 515.1 326.4 515.8 327.6 516.6 328.5 517.4 329.2 518.2 329.7 519.0 330.0 519.8 330.1 520.2 330.2 521.0 330.1 521.8 330.0 522.2 329.7 522.6 329.3 523.0 328.8 523.3 327.8 523.8 326.4 524.2 324.4 524.6Z" fill="none" stroke="#111" stroke-width="0.8" stroke-linejoin="round"/>
<path d="M311.6 525.4 311.2 525.6 310.8 525.6 310.0 525.7 309.2 525.6 308.8 525.5 308.4 525.3 308.0 525.1 307.6 524.6 307.2 524.1 306.9 523.4 306.5 522.2 306.1 520.6 305.8 518.2 305.7 515.0 305.7 509.8 305.9 507.0 306.3 504.6 306.6 503.4 306.8 502.8 307.2 501.9 307.6 501.4 308.0 500.9 308.4 500.7 308.8 500.5 309.6 500.4 310.8 500.4 311.2 500.4 311.6 500.6 312.0 500.8 312.4 501.1 312.8 501.6 313.3 502.6 313.7 503.8 314.1 505.4 314.3 507.4 314.5 510.6 314.5 515.0 314.4 518.2 314.2 520.2 313.7 522.2 313.5 523.0 313.2 523.7 312.8 524.4 312.4 524.9 312.0 525.2 311.6 525.4Z M321.6 523.4 319.6 523.5 318.8 523.5 318.5 523.0 318.4 522.6 318.3 521.8 318.3 519.4 318.5 517.4 318.6 516.6 318.8 515.8 319.2 515.8 321.2 516.4 322.4 516.8 323.6 517.4 324.4 518.0 325.1 518.6 325.4 519.0 325.8 519.8 326.0 520.6 326.0 521.4 325.9 521.8 325.6 522.2 325.1 522.6 324.1 523.0 322.8 523.3 321.6 523.4Z" fill="none" stroke="#111" stroke-width="0.81" stroke-linejoin="round"/>
<path d="M310.8 524.2 309.6 524.2 308.8 524.1 308.4 523.8 308.0 523.5 307.6 523.0 307.1 521.8 306.7 520.6 306.4 519.0 306.3 517.0 306.2 514.2 306.2 509.8 306.4 507.4 306.7 505.4 306.9 504.6 307.2 503.8 307.6 503.0 307.9 502.6 308.4 502.2 308.8 501.9 309.6 501.8 310.8 501.8 311.2 501.9 311.6 502.0 312.0 502.3 312.4 502.7 312.6 503.0 312.8 503.4 313.1 504.2 313.5 505.4 313.8 507.0 313.9 509.0 314.0 512.2 314.0 516.2 313.8 518.6 313.5 520.6 313.3 521.4 313.0 522.2 312.8 522.6 312.4 523.3 312.0 523.7 311.6 524.0 311.2 524.1 310.8 524.2Z M321.2 521.9 320.4 522.1 319.2 522.2 318.8 521.9 318.7 521.4 318.7 521.0 318.8 519.4 319.2 518.9 320.0 519.1 320.8 519.4 321.3 519.8 321.7 520.2 321.9 520.6 321.9 521.0 321.9 521.4 321.5 521.8 321.2 521.9Z" fill="none" stroke="#111" stroke-width="0.82" stroke-linejoin="round"/>
<path d="M310.4 522.6 309.6 522.6 309.2 522.6 308.8 522.4 308.4 522.1 308.1 521.8 307.7 521.0 307.3 519.8 307.0 518.6 306.9 517.0 306.8 515.0 306.8 511.4 306.9 509.0 307.0 507.4 307.4 505.8 307.6 505.2 307.9 504.6 308.4 503.9 308.8 503.6 309.2 503.4 310.0 503.4 310.8 503.4 311.2 503.5 311.6 503.7 312.0 504.1 312.5 505.0 312.9 506.2 313.2 507.4 313.3 509.0 313.4 511.0 313.4 514.6 313.4 516.6 313.2 518.2 312.9 519.8 312.5 521.0 312.0 521.9 311.6 522.3 311.2 522.5 310.8 522.6 310.4 522.6Z" fill="none" stroke="#111" stroke-width="0.83" stroke-linejoin="round"/>
<path d="M310.8 520.6 310.0 520.7 309.6 520.7 309.2 520.6 308.8 520.3 308.4 519.9 308.0 519.0 307.8 518.2 307.6 517.4 307.5 516.2 307.4 514.2 307.4 511.4 307.5 509.8 307.7 508.2 308.0 507.0 308.4 506.1 308.8 505.7 309.2 505.4 309.6 505.3 310.4 505.3 310.8 505.4 311.2 505.5 311.6 505.9 312.0 506.5 312.3 507.4 312.6 508.6 312.7 509.8 312.8 511.8 312.8 514.6 312.7 516.2 312.5 517.8 312.2 519.0 312.0 519.5 311.8 519.8 311.6 520.1 311.2 520.5 310.8 520.6Z" fill="none" stroke="#111" stroke-width="0.84" stroke-linejoin="round"/>
<path d="M310.8 517.9 310.4 518.1 310.0 518.1 309.6 518.0 309.2 517.8 308.9 517.4 308.7 517.0 308.5 516.2 308.4 515.3 308.3 513.8 308.3 511.8 308.4 510.6 308.5 509.8 308.8 508.8 309.2 508.2 309.6 508.0 310.0 507.9 310.4 507.9 310.8 508.1 311.2 508.4 311.6 509.4 311.8 511.0 311.9 513.8 311.7 515.8 311.6 516.6 311.3 517.4 311.2 517.6 310.8 517.9Z" fill="none" stroke="#111" stroke-width="0.85" stroke-linejoin="round"/>
<rect x="294.4" y="488.2" width="61.7" height="59.6" fill="none" stroke="#555" stroke-width="0.9"/>
<path d="M294.4 508.1H356.1M316.3 488.2V547.8" stroke="#555" stroke-width="0.9" fill="none"/>
<text x="289.9" y="496.8" font-size="6.4" text-anchor="end" fill="#1a1a1a" stroke="#1a1a1a" stroke-width="0.25">10</text>
<text x="289.8" y="493.5" font-size="4.3" text-anchor="start" fill="#1a1a1a" stroke="#1a1a1a" stroke-width="0.25">4</text>
<text x="289.9" y="520.8" font-size="6.4" text-anchor="end" fill="#1a1a1a" stroke="#1a1a1a" stroke-width="0.25">10</text>
<text x="289.8" y="517.5" font-size="4.3" text-anchor="start" fill="#1a1a1a" stroke="#1a1a1a" stroke-width="0.25">3</text>
<text x="290.5" y="544.1" font-size="6.4" text-anchor="end" fill="#1a1a1a" stroke="#1a1a1a" stroke-width="0.25">0</text>
<text x="302.7" y="556.8" font-size="6.4" text-anchor="middle" fill="#1a1a1a" stroke="#1a1a1a" stroke-width="0.25">0</text>
<text x="324.0" y="556.8" font-size="6.4" text-anchor="middle" fill="#1a1a1a" stroke="#1a1a1a" stroke-width="0.25">10</text>
<text x="327.3" y="553.2" font-size="4.3" text-anchor="start" fill="#1a1a1a" stroke="#1a1a1a" stroke-width="0.25">3</text>
<text x="348.6" y="556.8" font-size="6.4" text-anchor="middle" fill="#1a1a1a" stroke="#1a1a1a" stroke-width="0.25">10</text>
<text x="351.9" y="553.2" font-size="4.3" text-anchor="start" fill="#1a1a1a" stroke="#1a1a1a" stroke-width="0.25">4</text>
<path d="M292.5 495.6H294.4 M292.5 518.8H294.4 M292.5 541.7H294.4 M293.2 511.8H294.4 M293.2 507.7H294.4 M293.2 504.8H294.4 M293.2 502.6H294.4 M293.2 500.8H294.4 M293.2 499.2H294.4 M293.2 497.9H294.4 M293.2 496.7H294.4 M293.2 520.7H294.4 M293.2 522.6H294.4 M293.2 524.5H294.4 M293.2 526.4H294.4 M293.2 528.3H294.4 M293.2 530.2H294.4 M293.2 532.1H294.4 M293.2 534.0H294.4 M293.2 535.9H294.4 M293.2 537.8H294.4 M293.2 539.7H294.4 M293.2 543.0H294.4 M293.2 544.3H294.4 M293.2 545.7H294.4 M293.2 547.2H294.4 M302.6 547.8V549.6999999999999 M324.6 547.8V549.6999999999999 M349.2 547.8V549.6999999999999 M332.0 547.8V549.0 M336.3 547.8V549.0 M339.4 547.8V549.0 M341.8 547.8V549.0 M343.7 547.8V549.0 M345.4 547.8V549.0 M346.8 547.8V549.0 M348.1 547.8V549.0 M304.5 547.8V549.0 M306.4 547.8V549.0 M308.3 547.8V549.0 M310.2 547.8V549.0 M312.1 547.8V549.0 M314.0 547.8V549.0 M315.9 547.8V549.0 M317.8 547.8V549.0 M319.7 547.8V549.0 M321.6 547.8V549.0 M301.3 547.8V549.0 M300.0 547.8V549.0 M298.6 547.8V549.0 M297.1 547.8V549.0" stroke="#555" stroke-width="0.8" fill="none"/>
</svg></body></html>
